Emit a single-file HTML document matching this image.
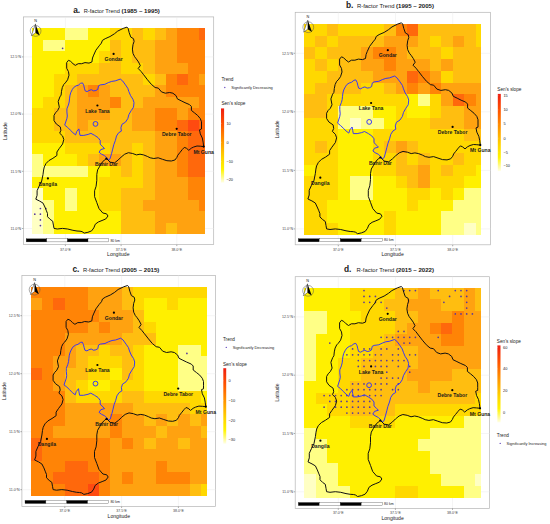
<!DOCTYPE html><html><head><meta charset="utf-8"><style>
*{margin:0;padding:0}
html,body{width:550px;height:524px;background:#fff;overflow:hidden}
svg{display:block}
text{font-family:"Liberation Sans",sans-serif;fill:#1a1a1a}
.town{font-size:5.1px;font-weight:bold;text-anchor:middle}
.tick{font-size:3.6px;fill:#444}
.axt{font-size:5.1px;fill:#222}
.km{font-size:3.5px}
.nlab{font-size:3.8px}
.title{font-size:6px}
.tl{font-size:8.4px;font-weight:bold}
.leg{font-size:4.7px;fill:#222}
.legs{font-size:3.9px;fill:#222}
</style></head><body><svg width="550" height="524" viewBox="0 0 550 524"><defs><linearGradient id="cb" x1="0" y1="0" x2="0" y2="1"><stop offset="0" stop-color="#EE1E12"/><stop offset="0.22" stop-color="#FF5500"/><stop offset="0.45" stop-color="#FF9A00"/><stop offset="0.66" stop-color="#FFD400"/><stop offset="0.82" stop-color="#FFF400"/><stop offset="1" stop-color="#FFFFE6"/></linearGradient></defs><rect x="23.4" y="16.9" width="190.29999999999998" height="227.7" fill="#fff" stroke="#b4b4b4" stroke-width="0.7"/><line x1="65.4" y1="16.9" x2="65.4" y2="244.6" stroke="#ebebeb" stroke-width="0.5"/><line x1="121.1" y1="16.9" x2="121.1" y2="244.6" stroke="#ebebeb" stroke-width="0.5"/><line x1="176.8" y1="16.9" x2="176.8" y2="244.6" stroke="#ebebeb" stroke-width="0.5"/><line x1="23.4" y1="228.5" x2="213.7" y2="228.5" stroke="#ebebeb" stroke-width="0.5"/><line x1="23.4" y1="171.3" x2="213.7" y2="171.3" stroke="#ebebeb" stroke-width="0.5"/><line x1="23.4" y1="114.1" x2="213.7" y2="114.1" stroke="#ebebeb" stroke-width="0.5"/><line x1="23.4" y1="56.9" x2="213.7" y2="56.9" stroke="#ebebeb" stroke-width="0.5"/><g shape-rendering="crispEdges"><rect x="32.00" y="28.30" width="11.44" height="11.74" fill="#FFF000"/><rect x="43.14" y="28.30" width="11.44" height="11.74" fill="#FFF000"/><rect x="54.28" y="28.30" width="11.44" height="11.74" fill="#FFF000"/><rect x="65.43" y="28.30" width="11.44" height="11.74" fill="#FFFF86"/><rect x="76.57" y="28.30" width="11.44" height="11.74" fill="#FFFF86"/><rect x="87.71" y="28.30" width="11.44" height="11.74" fill="#FFF000"/><rect x="98.85" y="28.30" width="11.44" height="11.74" fill="#FFF000"/><rect x="109.99" y="28.30" width="11.44" height="11.74" fill="#FFD800"/><rect x="121.14" y="28.30" width="11.44" height="11.74" fill="#FFD800"/><rect x="132.28" y="28.30" width="11.44" height="11.74" fill="#FFBE10"/><rect x="143.42" y="28.30" width="11.44" height="11.74" fill="#FFD800"/><rect x="154.56" y="28.30" width="11.44" height="11.74" fill="#FFBE10"/><rect x="165.70" y="28.30" width="11.44" height="11.74" fill="#FFA210"/><rect x="176.85" y="28.30" width="11.44" height="11.74" fill="#FF8406"/><rect x="187.99" y="28.30" width="11.44" height="11.74" fill="#FF8406"/><rect x="199.13" y="28.30" width="5.57" height="11.74" fill="#FF680C"/><rect x="32.00" y="39.74" width="11.44" height="11.74" fill="#FFF000"/><rect x="43.14" y="39.74" width="11.44" height="11.74" fill="#FFFF86"/><rect x="54.28" y="39.74" width="11.44" height="11.74" fill="#FFFF86"/><rect x="65.43" y="39.74" width="11.44" height="11.74" fill="#FFF000"/><rect x="76.57" y="39.74" width="11.44" height="11.74" fill="#FFF000"/><rect x="87.71" y="39.74" width="11.44" height="11.74" fill="#FFF000"/><rect x="98.85" y="39.74" width="11.44" height="11.74" fill="#FFF000"/><rect x="109.99" y="39.74" width="11.44" height="11.74" fill="#FFBE10"/><rect x="121.14" y="39.74" width="11.44" height="11.74" fill="#FFD800"/><rect x="132.28" y="39.74" width="11.44" height="11.74" fill="#FFBE10"/><rect x="143.42" y="39.74" width="11.44" height="11.74" fill="#FFBE10"/><rect x="154.56" y="39.74" width="11.44" height="11.74" fill="#FFA210"/><rect x="165.70" y="39.74" width="11.44" height="11.74" fill="#FFA210"/><rect x="176.85" y="39.74" width="11.44" height="11.74" fill="#FF8406"/><rect x="187.99" y="39.74" width="11.44" height="11.74" fill="#FF8406"/><rect x="199.13" y="39.74" width="5.57" height="11.74" fill="#FF8406"/><rect x="32.00" y="51.18" width="11.44" height="11.74" fill="#FFF000"/><rect x="43.14" y="51.18" width="11.44" height="11.74" fill="#FFF000"/><rect x="54.28" y="51.18" width="11.44" height="11.74" fill="#FFF000"/><rect x="65.43" y="51.18" width="11.44" height="11.74" fill="#FFF000"/><rect x="76.57" y="51.18" width="11.44" height="11.74" fill="#FFF000"/><rect x="87.71" y="51.18" width="11.44" height="11.74" fill="#FFF000"/><rect x="98.85" y="51.18" width="11.44" height="11.74" fill="#FFD800"/><rect x="109.99" y="51.18" width="11.44" height="11.74" fill="#FFBE10"/><rect x="121.14" y="51.18" width="11.44" height="11.74" fill="#FFD800"/><rect x="132.28" y="51.18" width="11.44" height="11.74" fill="#FFBE10"/><rect x="143.42" y="51.18" width="11.44" height="11.74" fill="#FFBE10"/><rect x="154.56" y="51.18" width="11.44" height="11.74" fill="#FFA210"/><rect x="165.70" y="51.18" width="11.44" height="11.74" fill="#FFA210"/><rect x="176.85" y="51.18" width="11.44" height="11.74" fill="#FF8406"/><rect x="187.99" y="51.18" width="11.44" height="11.74" fill="#FF8406"/><rect x="199.13" y="51.18" width="5.57" height="11.74" fill="#FF8406"/><rect x="32.00" y="62.62" width="11.44" height="11.74" fill="#FFF000"/><rect x="43.14" y="62.62" width="11.44" height="11.74" fill="#FFF000"/><rect x="54.28" y="62.62" width="11.44" height="11.74" fill="#FFF000"/><rect x="65.43" y="62.62" width="11.44" height="11.74" fill="#FFD800"/><rect x="76.57" y="62.62" width="11.44" height="11.74" fill="#FFD800"/><rect x="87.71" y="62.62" width="11.44" height="11.74" fill="#FFD800"/><rect x="98.85" y="62.62" width="11.44" height="11.74" fill="#FFBE10"/><rect x="109.99" y="62.62" width="11.44" height="11.74" fill="#FFBE10"/><rect x="121.14" y="62.62" width="11.44" height="11.74" fill="#FFD800"/><rect x="132.28" y="62.62" width="11.44" height="11.74" fill="#FFD800"/><rect x="143.42" y="62.62" width="11.44" height="11.74" fill="#FFBE10"/><rect x="154.56" y="62.62" width="11.44" height="11.74" fill="#FFA210"/><rect x="165.70" y="62.62" width="11.44" height="11.74" fill="#FFA210"/><rect x="176.85" y="62.62" width="11.44" height="11.74" fill="#FFA210"/><rect x="187.99" y="62.62" width="11.44" height="11.74" fill="#FF8406"/><rect x="199.13" y="62.62" width="5.57" height="11.74" fill="#FF8406"/><rect x="32.00" y="74.06" width="11.44" height="11.74" fill="#FFF000"/><rect x="43.14" y="74.06" width="11.44" height="11.74" fill="#FFF000"/><rect x="54.28" y="74.06" width="11.44" height="11.74" fill="#FFD800"/><rect x="65.43" y="74.06" width="11.44" height="11.74" fill="#FFD800"/><rect x="76.57" y="74.06" width="11.44" height="11.74" fill="#FFBE10"/><rect x="87.71" y="74.06" width="11.44" height="11.74" fill="#FFBE10"/><rect x="98.85" y="74.06" width="11.44" height="11.74" fill="#FFBE10"/><rect x="109.99" y="74.06" width="11.44" height="11.74" fill="#FFBE10"/><rect x="121.14" y="74.06" width="11.44" height="11.74" fill="#FFBE10"/><rect x="132.28" y="74.06" width="11.44" height="11.74" fill="#FFBE10"/><rect x="143.42" y="74.06" width="11.44" height="11.74" fill="#FFD800"/><rect x="154.56" y="74.06" width="11.44" height="11.74" fill="#FFBE10"/><rect x="165.70" y="74.06" width="11.44" height="11.74" fill="#FF8406"/><rect x="176.85" y="74.06" width="11.44" height="11.74" fill="#FF680C"/><rect x="187.99" y="74.06" width="11.44" height="11.74" fill="#FF8406"/><rect x="199.13" y="74.06" width="5.57" height="11.74" fill="#FFA210"/><rect x="32.00" y="85.49" width="11.44" height="11.74" fill="#FFF000"/><rect x="43.14" y="85.49" width="11.44" height="11.74" fill="#FFF000"/><rect x="54.28" y="85.49" width="11.44" height="11.74" fill="#FFD800"/><rect x="65.43" y="85.49" width="11.44" height="11.74" fill="#FFBE10"/><rect x="76.57" y="85.49" width="11.44" height="11.74" fill="#FFA210"/><rect x="87.71" y="85.49" width="11.44" height="11.74" fill="#FF8406"/><rect x="98.85" y="85.49" width="11.44" height="11.74" fill="#FFA210"/><rect x="109.99" y="85.49" width="11.44" height="11.74" fill="#FFBE10"/><rect x="121.14" y="85.49" width="11.44" height="11.74" fill="#FFBE10"/><rect x="132.28" y="85.49" width="11.44" height="11.74" fill="#FFBE10"/><rect x="143.42" y="85.49" width="11.44" height="11.74" fill="#FFBE10"/><rect x="154.56" y="85.49" width="11.44" height="11.74" fill="#FFA210"/><rect x="165.70" y="85.49" width="11.44" height="11.74" fill="#FF8406"/><rect x="176.85" y="85.49" width="11.44" height="11.74" fill="#FF8406"/><rect x="187.99" y="85.49" width="11.44" height="11.74" fill="#FF8406"/><rect x="199.13" y="85.49" width="5.57" height="11.74" fill="#FF8406"/><rect x="32.00" y="96.93" width="11.44" height="11.74" fill="#FFF000"/><rect x="43.14" y="96.93" width="11.44" height="11.74" fill="#FFD800"/><rect x="54.28" y="96.93" width="11.44" height="11.74" fill="#FFD800"/><rect x="65.43" y="96.93" width="11.44" height="11.74" fill="#FFBE10"/><rect x="76.57" y="96.93" width="11.44" height="11.74" fill="#FFA210"/><rect x="87.71" y="96.93" width="11.44" height="11.74" fill="#FFA210"/><rect x="98.85" y="96.93" width="11.44" height="11.74" fill="#FFA210"/><rect x="109.99" y="96.93" width="11.44" height="11.74" fill="#FF8406"/><rect x="121.14" y="96.93" width="11.44" height="11.74" fill="#FFBE10"/><rect x="132.28" y="96.93" width="11.44" height="11.74" fill="#FFBE10"/><rect x="143.42" y="96.93" width="11.44" height="11.74" fill="#FFA210"/><rect x="154.56" y="96.93" width="11.44" height="11.74" fill="#FFA210"/><rect x="165.70" y="96.93" width="11.44" height="11.74" fill="#FFA210"/><rect x="176.85" y="96.93" width="11.44" height="11.74" fill="#FFA210"/><rect x="187.99" y="96.93" width="11.44" height="11.74" fill="#FFA210"/><rect x="199.13" y="96.93" width="5.57" height="11.74" fill="#FF8406"/><rect x="32.00" y="108.37" width="11.44" height="11.74" fill="#FFD800"/><rect x="43.14" y="108.37" width="11.44" height="11.74" fill="#FFD800"/><rect x="54.28" y="108.37" width="11.44" height="11.74" fill="#FFBE10"/><rect x="65.43" y="108.37" width="11.44" height="11.74" fill="#FFBE10"/><rect x="76.57" y="108.37" width="11.44" height="11.74" fill="#FFA210"/><rect x="87.71" y="108.37" width="11.44" height="11.74" fill="#FFA210"/><rect x="98.85" y="108.37" width="11.44" height="11.74" fill="#FFA210"/><rect x="109.99" y="108.37" width="11.44" height="11.74" fill="#FFBE10"/><rect x="121.14" y="108.37" width="11.44" height="11.74" fill="#FFBE10"/><rect x="132.28" y="108.37" width="11.44" height="11.74" fill="#FFA210"/><rect x="143.42" y="108.37" width="11.44" height="11.74" fill="#FFA210"/><rect x="154.56" y="108.37" width="11.44" height="11.74" fill="#FF8406"/><rect x="165.70" y="108.37" width="11.44" height="11.74" fill="#FF8406"/><rect x="176.85" y="108.37" width="11.44" height="11.74" fill="#FFA210"/><rect x="187.99" y="108.37" width="11.44" height="11.74" fill="#FF8406"/><rect x="199.13" y="108.37" width="5.57" height="11.74" fill="#FF8406"/><rect x="32.00" y="119.81" width="11.44" height="11.74" fill="#FFD800"/><rect x="43.14" y="119.81" width="11.44" height="11.74" fill="#FFD800"/><rect x="54.28" y="119.81" width="11.44" height="11.74" fill="#FFBE10"/><rect x="65.43" y="119.81" width="11.44" height="11.74" fill="#FFBE10"/><rect x="76.57" y="119.81" width="11.44" height="11.74" fill="#FFA210"/><rect x="87.71" y="119.81" width="11.44" height="11.74" fill="#FFBE10"/><rect x="98.85" y="119.81" width="11.44" height="11.74" fill="#FFBE10"/><rect x="109.99" y="119.81" width="11.44" height="11.74" fill="#FFBE10"/><rect x="121.14" y="119.81" width="11.44" height="11.74" fill="#FFBE10"/><rect x="132.28" y="119.81" width="11.44" height="11.74" fill="#FFA210"/><rect x="143.42" y="119.81" width="11.44" height="11.74" fill="#FFA210"/><rect x="154.56" y="119.81" width="11.44" height="11.74" fill="#FF8406"/><rect x="165.70" y="119.81" width="11.44" height="11.74" fill="#FF8406"/><rect x="176.85" y="119.81" width="11.44" height="11.74" fill="#FF680C"/><rect x="187.99" y="119.81" width="11.44" height="11.74" fill="#FF4A10"/><rect x="199.13" y="119.81" width="5.57" height="11.74" fill="#FF680C"/><rect x="32.00" y="131.25" width="11.44" height="11.74" fill="#FFD800"/><rect x="43.14" y="131.25" width="11.44" height="11.74" fill="#FFD800"/><rect x="54.28" y="131.25" width="11.44" height="11.74" fill="#FFD800"/><rect x="65.43" y="131.25" width="11.44" height="11.74" fill="#FFBE10"/><rect x="76.57" y="131.25" width="11.44" height="11.74" fill="#FFBE10"/><rect x="87.71" y="131.25" width="11.44" height="11.74" fill="#FFBE10"/><rect x="98.85" y="131.25" width="11.44" height="11.74" fill="#FFBE10"/><rect x="109.99" y="131.25" width="11.44" height="11.74" fill="#FFBE10"/><rect x="121.14" y="131.25" width="11.44" height="11.74" fill="#FFBE10"/><rect x="132.28" y="131.25" width="11.44" height="11.74" fill="#FFBE10"/><rect x="143.42" y="131.25" width="11.44" height="11.74" fill="#FFBE10"/><rect x="154.56" y="131.25" width="11.44" height="11.74" fill="#FFA210"/><rect x="165.70" y="131.25" width="11.44" height="11.74" fill="#FFA210"/><rect x="176.85" y="131.25" width="11.44" height="11.74" fill="#FF8406"/><rect x="187.99" y="131.25" width="11.44" height="11.74" fill="#FF680C"/><rect x="199.13" y="131.25" width="5.57" height="11.74" fill="#FF680C"/><rect x="32.00" y="142.69" width="11.44" height="11.74" fill="#FFF000"/><rect x="43.14" y="142.69" width="11.44" height="11.74" fill="#FFF000"/><rect x="54.28" y="142.69" width="11.44" height="11.74" fill="#FFF000"/><rect x="65.43" y="142.69" width="11.44" height="11.74" fill="#FFD800"/><rect x="76.57" y="142.69" width="11.44" height="11.74" fill="#FFD800"/><rect x="87.71" y="142.69" width="11.44" height="11.74" fill="#FFD800"/><rect x="98.85" y="142.69" width="11.44" height="11.74" fill="#FFD800"/><rect x="109.99" y="142.69" width="11.44" height="11.74" fill="#FFBE10"/><rect x="121.14" y="142.69" width="11.44" height="11.74" fill="#FFBE10"/><rect x="132.28" y="142.69" width="11.44" height="11.74" fill="#FFD800"/><rect x="143.42" y="142.69" width="11.44" height="11.74" fill="#FFBE10"/><rect x="154.56" y="142.69" width="11.44" height="11.74" fill="#FFA210"/><rect x="165.70" y="142.69" width="11.44" height="11.74" fill="#FFA210"/><rect x="176.85" y="142.69" width="11.44" height="11.74" fill="#FF8406"/><rect x="187.99" y="142.69" width="11.44" height="11.74" fill="#FF680C"/><rect x="199.13" y="142.69" width="5.57" height="11.74" fill="#FF680C"/><rect x="32.00" y="154.13" width="11.44" height="11.74" fill="#FFFF86"/><rect x="43.14" y="154.13" width="11.44" height="11.74" fill="#FFF000"/><rect x="54.28" y="154.13" width="11.44" height="11.74" fill="#FFF000"/><rect x="65.43" y="154.13" width="11.44" height="11.74" fill="#FFF000"/><rect x="76.57" y="154.13" width="11.44" height="11.74" fill="#FFD800"/><rect x="87.71" y="154.13" width="11.44" height="11.74" fill="#FFBE10"/><rect x="98.85" y="154.13" width="11.44" height="11.74" fill="#FFA210"/><rect x="109.99" y="154.13" width="11.44" height="11.74" fill="#FFA210"/><rect x="121.14" y="154.13" width="11.44" height="11.74" fill="#FFBE10"/><rect x="132.28" y="154.13" width="11.44" height="11.74" fill="#FFD800"/><rect x="143.42" y="154.13" width="11.44" height="11.74" fill="#FFBE10"/><rect x="154.56" y="154.13" width="11.44" height="11.74" fill="#FFA210"/><rect x="165.70" y="154.13" width="11.44" height="11.74" fill="#FFA210"/><rect x="176.85" y="154.13" width="11.44" height="11.74" fill="#FF8406"/><rect x="187.99" y="154.13" width="11.44" height="11.74" fill="#FF680C"/><rect x="199.13" y="154.13" width="5.57" height="11.74" fill="#FF680C"/><rect x="32.00" y="165.57" width="11.44" height="11.74" fill="#FFFF86"/><rect x="43.14" y="165.57" width="11.44" height="11.74" fill="#FFFF86"/><rect x="54.28" y="165.57" width="11.44" height="11.74" fill="#FFFF86"/><rect x="65.43" y="165.57" width="11.44" height="11.74" fill="#FFFF86"/><rect x="76.57" y="165.57" width="11.44" height="11.74" fill="#FFFF86"/><rect x="87.71" y="165.57" width="11.44" height="11.74" fill="#FFF000"/><rect x="98.85" y="165.57" width="11.44" height="11.74" fill="#FFF000"/><rect x="109.99" y="165.57" width="11.44" height="11.74" fill="#FFD800"/><rect x="121.14" y="165.57" width="11.44" height="11.74" fill="#FFBE10"/><rect x="132.28" y="165.57" width="11.44" height="11.74" fill="#FFD800"/><rect x="143.42" y="165.57" width="11.44" height="11.74" fill="#FFBE10"/><rect x="154.56" y="165.57" width="11.44" height="11.74" fill="#FFA210"/><rect x="165.70" y="165.57" width="11.44" height="11.74" fill="#FFA210"/><rect x="176.85" y="165.57" width="11.44" height="11.74" fill="#FF8406"/><rect x="187.99" y="165.57" width="11.44" height="11.74" fill="#FF680C"/><rect x="199.13" y="165.57" width="5.57" height="11.74" fill="#FF680C"/><rect x="32.00" y="177.01" width="11.44" height="11.74" fill="#FFF000"/><rect x="43.14" y="177.01" width="11.44" height="11.74" fill="#FFF000"/><rect x="54.28" y="177.01" width="11.44" height="11.74" fill="#FFF000"/><rect x="65.43" y="177.01" width="11.44" height="11.74" fill="#FFF000"/><rect x="76.57" y="177.01" width="11.44" height="11.74" fill="#FFF000"/><rect x="87.71" y="177.01" width="11.44" height="11.74" fill="#FFF000"/><rect x="98.85" y="177.01" width="11.44" height="11.74" fill="#FFD800"/><rect x="109.99" y="177.01" width="11.44" height="11.74" fill="#FFD800"/><rect x="121.14" y="177.01" width="11.44" height="11.74" fill="#FFD800"/><rect x="132.28" y="177.01" width="11.44" height="11.74" fill="#FFD800"/><rect x="143.42" y="177.01" width="11.44" height="11.74" fill="#FFBE10"/><rect x="154.56" y="177.01" width="11.44" height="11.74" fill="#FFA210"/><rect x="165.70" y="177.01" width="11.44" height="11.74" fill="#FFA210"/><rect x="176.85" y="177.01" width="11.44" height="11.74" fill="#FFA210"/><rect x="187.99" y="177.01" width="11.44" height="11.74" fill="#FF8406"/><rect x="199.13" y="177.01" width="5.57" height="11.74" fill="#FF8406"/><rect x="32.00" y="188.44" width="11.44" height="11.74" fill="#FFFFC4"/><rect x="43.14" y="188.44" width="11.44" height="11.74" fill="#FFF000"/><rect x="54.28" y="188.44" width="11.44" height="11.74" fill="#FFF000"/><rect x="65.43" y="188.44" width="11.44" height="11.74" fill="#FFFF86"/><rect x="76.57" y="188.44" width="11.44" height="11.74" fill="#FFF000"/><rect x="87.71" y="188.44" width="11.44" height="11.74" fill="#FFF000"/><rect x="98.85" y="188.44" width="11.44" height="11.74" fill="#FFD800"/><rect x="109.99" y="188.44" width="11.44" height="11.74" fill="#FFD800"/><rect x="121.14" y="188.44" width="11.44" height="11.74" fill="#FFBE10"/><rect x="132.28" y="188.44" width="11.44" height="11.74" fill="#FFBE10"/><rect x="143.42" y="188.44" width="11.44" height="11.74" fill="#FFBE10"/><rect x="154.56" y="188.44" width="11.44" height="11.74" fill="#FFA210"/><rect x="165.70" y="188.44" width="11.44" height="11.74" fill="#FFA210"/><rect x="176.85" y="188.44" width="11.44" height="11.74" fill="#FFA210"/><rect x="187.99" y="188.44" width="11.44" height="11.74" fill="#FF8406"/><rect x="199.13" y="188.44" width="5.57" height="11.74" fill="#FF8406"/><rect x="32.00" y="199.88" width="11.44" height="11.74" fill="#FFFFC4"/><rect x="43.14" y="199.88" width="11.44" height="11.74" fill="#FFFF86"/><rect x="54.28" y="199.88" width="11.44" height="11.74" fill="#FFF000"/><rect x="65.43" y="199.88" width="11.44" height="11.74" fill="#FFFF86"/><rect x="76.57" y="199.88" width="11.44" height="11.74" fill="#FFF000"/><rect x="87.71" y="199.88" width="11.44" height="11.74" fill="#FFF000"/><rect x="98.85" y="199.88" width="11.44" height="11.74" fill="#FFD800"/><rect x="109.99" y="199.88" width="11.44" height="11.74" fill="#FFD800"/><rect x="121.14" y="199.88" width="11.44" height="11.74" fill="#FFBE10"/><rect x="132.28" y="199.88" width="11.44" height="11.74" fill="#FFBE10"/><rect x="143.42" y="199.88" width="11.44" height="11.74" fill="#FFA210"/><rect x="154.56" y="199.88" width="11.44" height="11.74" fill="#FFA210"/><rect x="165.70" y="199.88" width="11.44" height="11.74" fill="#FFA210"/><rect x="176.85" y="199.88" width="11.44" height="11.74" fill="#FFA210"/><rect x="187.99" y="199.88" width="11.44" height="11.74" fill="#FFA210"/><rect x="199.13" y="199.88" width="5.57" height="11.74" fill="#FF8406"/><rect x="32.00" y="211.32" width="11.44" height="11.74" fill="#FFFFC4"/><rect x="43.14" y="211.32" width="11.44" height="11.74" fill="#FFFF86"/><rect x="54.28" y="211.32" width="11.44" height="11.74" fill="#FFF000"/><rect x="65.43" y="211.32" width="11.44" height="11.74" fill="#FFF000"/><rect x="76.57" y="211.32" width="11.44" height="11.74" fill="#FFF000"/><rect x="87.71" y="211.32" width="11.44" height="11.74" fill="#FFF000"/><rect x="98.85" y="211.32" width="11.44" height="11.74" fill="#FFF000"/><rect x="109.99" y="211.32" width="11.44" height="11.74" fill="#FFF000"/><rect x="121.14" y="211.32" width="11.44" height="11.74" fill="#FFBE10"/><rect x="132.28" y="211.32" width="11.44" height="11.74" fill="#FFBE10"/><rect x="143.42" y="211.32" width="11.44" height="11.74" fill="#FFBE10"/><rect x="154.56" y="211.32" width="11.44" height="11.74" fill="#FFA210"/><rect x="165.70" y="211.32" width="11.44" height="11.74" fill="#FFA210"/><rect x="176.85" y="211.32" width="11.44" height="11.74" fill="#FFA210"/><rect x="187.99" y="211.32" width="11.44" height="11.74" fill="#FFA210"/><rect x="199.13" y="211.32" width="5.57" height="11.74" fill="#FFA210"/><rect x="32.00" y="222.76" width="11.44" height="11.44" fill="#FFFFC4"/><rect x="43.14" y="222.76" width="11.44" height="11.44" fill="#FFFF86"/><rect x="54.28" y="222.76" width="11.44" height="11.44" fill="#FFF000"/><rect x="65.43" y="222.76" width="11.44" height="11.44" fill="#FFF000"/><rect x="76.57" y="222.76" width="11.44" height="11.44" fill="#FFF000"/><rect x="87.71" y="222.76" width="11.44" height="11.44" fill="#FFF000"/><rect x="98.85" y="222.76" width="11.44" height="11.44" fill="#FFF000"/><rect x="109.99" y="222.76" width="11.44" height="11.44" fill="#FFF000"/><rect x="121.14" y="222.76" width="11.44" height="11.44" fill="#FFBE10"/><rect x="132.28" y="222.76" width="11.44" height="11.44" fill="#FFBE10"/><rect x="143.42" y="222.76" width="11.44" height="11.44" fill="#FFBE10"/><rect x="154.56" y="222.76" width="11.44" height="11.44" fill="#FFA210"/><rect x="165.70" y="222.76" width="11.44" height="11.44" fill="#FFBE10"/><rect x="176.85" y="222.76" width="11.44" height="11.44" fill="#FFA210"/><rect x="187.99" y="222.76" width="11.44" height="11.44" fill="#FFA210"/><rect x="199.13" y="222.76" width="5.57" height="11.44" fill="#FFA210"/></g><circle cx="40.4" cy="208.5" r="0.85" fill="#56379e"/><circle cx="45.9" cy="208.5" r="0.85" fill="#56379e"/><circle cx="34.8" cy="214.2" r="0.85" fill="#56379e"/><circle cx="40.4" cy="214.2" r="0.85" fill="#56379e"/><circle cx="40.4" cy="219.9" r="0.85" fill="#56379e"/><circle cx="40.4" cy="225.6" r="0.85" fill="#56379e"/><circle cx="62.6" cy="48.3" r="0.85" fill="#56379e"/><path d="M82.5,82.9 L83.7,85.2 L84.4,88.2 L85.2,90.9 L87.1,91.6 L89.0,90.5 L91.3,89.7 L93.6,90.9 L95.9,90.5 L97.8,89.4 L98.5,85.9 L100.3,84.9 L104.9,84.3 L108.3,82.6 L111.7,81.4 L115.2,80.9 L120.3,79.1 L122.6,80.9 L125.5,84.9 L127.8,88.3 L128.9,91.7 L130.6,95.7 L132.9,99.2 L134.0,102.6 L133.5,107.2 L131.2,110.6 L128.9,114.6 L127.8,118.6 L125.5,122.1 L122.0,124.3 L120.9,127.8 L121.4,131.1 L118.7,132.7 L116.5,136.0 L115.4,140.4 L113.8,144.7 L112.7,149.1 L111.6,153.4 L110.0,158.9 L108.3,160.0 L106.7,157.8 L104.5,155.6 L101.3,154.0 L99.1,152.3 L100.7,149.6 L104.5,148.5 L102.9,146.9 L100.2,144.2 L100.2,140.4 L98.0,137.6 L94.7,135.4 L90.9,133.3 L88.2,134.4 L83.8,135.4 L80.0,135.4 L79.4,132.2 L78.9,128.9 L76.7,131.6 L75.6,134.9 L72.9,132.7 L70.2,130.0 L67.5,127.3 L64.7,125.1 L66.9,118.5 L67.3,116.0 L66.9,111.9 L66.9,108.8 L68.4,105.0 L69.2,102.0 L69.5,98.9 L69.9,95.8 L70.7,92.8 L72.2,89.7 L73.7,87.5 L76.0,85.9 L78.3,85.2 L80.6,83.3 Z" fill="none" stroke="#2f2fff" stroke-width="0.95"/><circle cx="95.5" cy="123.9" r="2.4" fill="none" stroke="#2f2fff" stroke-width="0.95"/><path d="M127.0,27.1 L123.2,28.4 L117.7,31.1 L114.4,33.8 L110.1,36.5 L105.2,38.7 L102.4,40.4 L101.4,43.1 L99.2,45.8 L95.9,50.2 L93.7,55.1 L92.5,58.0 L91.9,62.0 L89.0,63.1 L85.0,62.6 L81.6,63.7 L78.2,63.7 L75.3,65.4 L73.0,63.7 L70.7,61.4 L68.5,60.3 L66.7,62.6 L66.7,68.3 L68.5,71.7 L69.0,75.2 L67.6,79.8 L65.3,82.9 L63.8,84.4 L62.3,87.5 L61.5,91.3 L61.1,95.1 L59.9,96.9 L58.2,101.5 L59.3,107.2 L57.6,110.6 L55.5,112.8 L54.0,115.4 L54.0,120.6 L56.3,124.0 L60.3,126.9 L60.9,130.3 L59.7,133.2 L62.6,136.0 L63.8,139.5 L62.6,144.0 L59.2,148.6 L56.9,152.0 L56.9,155.5 L52.9,158.3 L48.9,160.6 L46.0,163.5 L44.3,166.9 L43.6,170.0 L43.0,174.5 L41.7,181.0 L39.1,186.2 L37.1,190.7 L37.1,195.3 L35.8,199.2 L39.7,201.1 L43.0,203.1 L44.9,207.0 L46.2,210.2 L47.5,213.5 L47.5,216.7 L50.1,219.3 L52.7,221.2 L53.4,225.1 L54.0,228.4 L57.3,229.0 L62.5,228.4 L67.7,229.0 L72.9,230.3 L77.0,231.0 L80.0,231.2 L82.0,231.6 L84.2,233.1 L87.9,232.3 L91.6,230.9 L93.8,227.9 L95.3,224.2 L98.3,222.0 L102.0,220.5 L105.7,219.0 L108.0,216.0 L106.5,213.8 L102.8,213.0 L99.0,208.6 L96.8,202.6 L94.6,196.7 L94.6,190.7 L96.1,186.3 L96.8,180.3 L96.8,174.4 L97.6,169.9 L99.8,166.2 L102.0,162.5 L104.4,160.0 L106.5,158.5 L110.2,162.2 L114.5,162.9 L118.2,160.0 L121.1,157.1 L124.7,154.2 L128.4,152.7 L132.7,153.5 L136.4,154.9 L140.0,154.2 L143.6,154.9 L147.3,156.4 L150.2,157.8 L153.8,158.5 L158.2,157.8 L162.5,159.3 L166.9,160.7 L171.3,161.0 L174.9,160.0 L176.8,157.5 L177.8,155.2 L179.8,152.7 L182.3,149.5 L184.3,147.4 L186.4,148.2 L188.8,150.3 L191.3,148.2 L193.7,147.0 L197.0,146.0 L200.3,146.2 L203.7,146.6 L203.1,142.1 L202.3,138.0 L200.3,133.9 L199.5,129.8 L201.5,129.0 L201.5,126.0 L201.5,121.8 L200.3,118.6 L197.7,115.5 L194.5,112.9 L191.4,110.4 L191.4,106.5 L189.5,104.6 L185.0,102.7 L181.2,100.8 L177.4,98.9 L176.1,95.7 L172.9,93.2 L169.7,92.5 L165.3,93.2 L161.5,91.9 L158.3,88.1 L155.1,87.5 L151.3,84.3 L147.5,79.8 L143.6,74.7 L141.1,71.5 L138.2,68.5 L140.3,65.6 L138.5,62.0 L136.3,58.9 L134.6,56.7 L133.0,53.4 L132.4,49.1 L133.0,44.7 L134.1,41.4 L133.5,38.7 L130.8,37.1 L129.2,32.7 L128.1,28.4 Z" fill="none" stroke="#111" stroke-width="1.0" stroke-linejoin="round"/><circle cx="113.6" cy="53.9" r="1.1" fill="#000"/><text x="113.6" y="61.1" class="town">Gondar</text><circle cx="97.4" cy="105.5" r="1.1" fill="#000"/><text x="97.4" y="112.7" class="town">Lake Tana</text><circle cx="106.4" cy="158.7" r="1.1" fill="#000"/><text x="106.4" y="165.9" class="town">Bahir Dar</text><circle cx="47.9" cy="178.4" r="1.1" fill="#000"/><text x="47.9" y="185.6" class="town">Dangila</text><circle cx="176.7" cy="128.8" r="1.1" fill="#000"/><text x="176.7" y="136.0" class="town">Debre Tabor</text><circle cx="203.7" cy="146.6" r="1.1" fill="#000"/><text x="203.7" y="153.8" class="town">Mt Guna</text><line x1="65.4" y1="244.6" x2="65.4" y2="246.1" stroke="#333" stroke-width="0.4"/><text x="65.4" y="250.5" class="tick" text-anchor="middle">37.0°E</text><line x1="121.1" y1="244.6" x2="121.1" y2="246.1" stroke="#333" stroke-width="0.4"/><text x="121.1" y="250.5" class="tick" text-anchor="middle">37.5°E</text><line x1="176.8" y1="244.6" x2="176.8" y2="246.1" stroke="#333" stroke-width="0.4"/><text x="176.8" y="250.5" class="tick" text-anchor="middle">38.0°E</text><line x1="21.9" y1="228.5" x2="23.4" y2="228.5" stroke="#333" stroke-width="0.4"/><text x="21.2" y="229.7" class="tick" text-anchor="end">11.0°N</text><line x1="21.9" y1="171.3" x2="23.4" y2="171.3" stroke="#333" stroke-width="0.4"/><text x="21.2" y="172.5" class="tick" text-anchor="end">11.5°N</text><line x1="21.9" y1="114.1" x2="23.4" y2="114.1" stroke="#333" stroke-width="0.4"/><text x="21.2" y="115.3" class="tick" text-anchor="end">12.0°N</text><line x1="21.9" y1="56.9" x2="23.4" y2="56.9" stroke="#333" stroke-width="0.4"/><text x="21.2" y="58.1" class="tick" text-anchor="end">12.5°N</text><text x="118.3" y="256.2" class="axt" text-anchor="middle">Longitude</text><text transform="translate(7.4,131.2) rotate(-90)" class="axt" text-anchor="middle">Latitude</text><rect x="26.2" y="238.8" width="20.6" height="3.1" fill="#000" stroke="#222" stroke-width="0.3"/><rect x="46.8" y="238.8" width="20.6" height="3.1" fill="#fff" stroke="#222" stroke-width="0.3"/><rect x="67.4" y="238.8" width="20.6" height="3.1" fill="#000" stroke="#222" stroke-width="0.3"/><rect x="88.0" y="238.8" width="20.6" height="3.1" fill="#fff" stroke="#222" stroke-width="0.3"/><text x="110.4" y="241.5" class="km">80 km</text><circle cx="35.6" cy="30.9" r="5.4" fill="none" stroke="#555" stroke-width="0.5"/><path d="M35.5,23.9 L39.7,35.6 L35.5,32.9 Z" fill="#000"/><path d="M35.5,23.9 L31.3,35.8 L35.5,32.9 Z" fill="#fff" stroke="#000" stroke-width="0.4"/><text x="35.5" y="21.9" class="nlab" text-anchor="middle">N</text><text x="73.2" y="12.6" class="tl">a.</text><text x="83.7" y="12.6" class="title" textLength="36.2" lengthAdjust="spacingAndGlyphs">R-factor Trend</text><text x="121.4" y="12.6" class="title" font-weight="bold" textLength="38.5" lengthAdjust="spacingAndGlyphs">(1985 – 1995)</text><text x="221.4" y="81.0" class="leg">Trend</text><circle cx="224.8" cy="87.5" r="0.72" fill="#6a50c0"/><text x="231.2" y="88.9" class="legs">Significantly Decreasing</text><text x="221.4" y="105.4" class="leg">Sen's slope</text><rect x="221.0" y="108.4" width="3.1" height="74.2" fill="url(#cb)"/><line x1="221.0" y1="123.4" x2="221.6" y2="123.4" stroke="#fff" stroke-width="0.3"/><text x="226.4" y="124.7" class="legs">10</text><line x1="221.0" y1="142.3" x2="221.6" y2="142.3" stroke="#fff" stroke-width="0.3"/><text x="226.4" y="143.6" class="legs">0</text><line x1="221.0" y1="161.7" x2="221.6" y2="161.7" stroke="#fff" stroke-width="0.3"/><text x="226.4" y="163.0" class="legs">−10</text><line x1="221.0" y1="180.0" x2="221.6" y2="180.0" stroke="#fff" stroke-width="0.3"/><text x="226.4" y="181.3" class="legs">−20</text><rect x="295.2" y="12.3" width="195.3" height="232.5" fill="#fff" stroke="#b4b4b4" stroke-width="0.7"/><line x1="338.3" y1="12.3" x2="338.3" y2="244.8" stroke="#ebebeb" stroke-width="0.5"/><line x1="395.5" y1="12.3" x2="395.5" y2="244.8" stroke="#ebebeb" stroke-width="0.5"/><line x1="452.7" y1="12.3" x2="452.7" y2="244.8" stroke="#ebebeb" stroke-width="0.5"/><line x1="295.2" y1="228.9" x2="490.5" y2="228.9" stroke="#ebebeb" stroke-width="0.5"/><line x1="295.2" y1="170.4" x2="490.5" y2="170.4" stroke="#ebebeb" stroke-width="0.5"/><line x1="295.2" y1="111.8" x2="490.5" y2="111.8" stroke="#ebebeb" stroke-width="0.5"/><line x1="295.2" y1="53.3" x2="490.5" y2="53.3" stroke="#ebebeb" stroke-width="0.5"/><g shape-rendering="crispEdges"><rect x="304.00" y="24.00" width="11.74" height="12.01" fill="#FFD800"/><rect x="315.44" y="24.00" width="11.74" height="12.01" fill="#FFD800"/><rect x="326.88" y="24.00" width="11.74" height="12.01" fill="#FFBE10"/><rect x="338.32" y="24.00" width="11.74" height="12.01" fill="#FFD800"/><rect x="349.75" y="24.00" width="11.74" height="12.01" fill="#FFD800"/><rect x="361.19" y="24.00" width="11.74" height="12.01" fill="#FFD800"/><rect x="372.63" y="24.00" width="11.74" height="12.01" fill="#FFD800"/><rect x="384.07" y="24.00" width="11.74" height="12.01" fill="#FFBE10"/><rect x="395.51" y="24.00" width="11.74" height="12.01" fill="#FF8406"/><rect x="406.95" y="24.00" width="11.74" height="12.01" fill="#FF680C"/><rect x="418.39" y="24.00" width="11.74" height="12.01" fill="#FFBE10"/><rect x="429.83" y="24.00" width="11.74" height="12.01" fill="#FFBE10"/><rect x="441.26" y="24.00" width="11.74" height="12.01" fill="#FFBE10"/><rect x="452.70" y="24.00" width="11.74" height="12.01" fill="#FFBE10"/><rect x="464.14" y="24.00" width="11.74" height="12.01" fill="#FFBE10"/><rect x="475.58" y="24.00" width="5.72" height="12.01" fill="#FFD800"/><rect x="304.00" y="35.71" width="11.74" height="12.01" fill="#FFD800"/><rect x="315.44" y="35.71" width="11.74" height="12.01" fill="#FFBE10"/><rect x="326.88" y="35.71" width="11.74" height="12.01" fill="#FFD800"/><rect x="338.32" y="35.71" width="11.74" height="12.01" fill="#FFBE10"/><rect x="349.75" y="35.71" width="11.74" height="12.01" fill="#FFBE10"/><rect x="361.19" y="35.71" width="11.74" height="12.01" fill="#FFBE10"/><rect x="372.63" y="35.71" width="11.74" height="12.01" fill="#FFBE10"/><rect x="384.07" y="35.71" width="11.74" height="12.01" fill="#FFA210"/><rect x="395.51" y="35.71" width="11.74" height="12.01" fill="#FFA210"/><rect x="406.95" y="35.71" width="11.74" height="12.01" fill="#FFA210"/><rect x="418.39" y="35.71" width="11.74" height="12.01" fill="#FFBE10"/><rect x="429.83" y="35.71" width="11.74" height="12.01" fill="#FFD800"/><rect x="441.26" y="35.71" width="11.74" height="12.01" fill="#FFBE10"/><rect x="452.70" y="35.71" width="11.74" height="12.01" fill="#FFA210"/><rect x="464.14" y="35.71" width="11.74" height="12.01" fill="#FFBE10"/><rect x="475.58" y="35.71" width="5.72" height="12.01" fill="#FFD800"/><rect x="304.00" y="47.42" width="11.74" height="12.01" fill="#FFBE10"/><rect x="315.44" y="47.42" width="11.74" height="12.01" fill="#FFD800"/><rect x="326.88" y="47.42" width="11.74" height="12.01" fill="#FFBE10"/><rect x="338.32" y="47.42" width="11.74" height="12.01" fill="#FFBE10"/><rect x="349.75" y="47.42" width="11.74" height="12.01" fill="#FFBE10"/><rect x="361.19" y="47.42" width="11.74" height="12.01" fill="#FFA210"/><rect x="372.63" y="47.42" width="11.74" height="12.01" fill="#FF8406"/><rect x="384.07" y="47.42" width="11.74" height="12.01" fill="#FF8406"/><rect x="395.51" y="47.42" width="11.74" height="12.01" fill="#FFA210"/><rect x="406.95" y="47.42" width="11.74" height="12.01" fill="#FFBE10"/><rect x="418.39" y="47.42" width="11.74" height="12.01" fill="#FFBE10"/><rect x="429.83" y="47.42" width="11.74" height="12.01" fill="#FFBE10"/><rect x="441.26" y="47.42" width="11.74" height="12.01" fill="#FFD800"/><rect x="452.70" y="47.42" width="11.74" height="12.01" fill="#FFBE10"/><rect x="464.14" y="47.42" width="11.74" height="12.01" fill="#FFBE10"/><rect x="475.58" y="47.42" width="5.72" height="12.01" fill="#FFBE10"/><rect x="304.00" y="59.13" width="11.74" height="12.01" fill="#FFD800"/><rect x="315.44" y="59.13" width="11.74" height="12.01" fill="#FFBE10"/><rect x="326.88" y="59.13" width="11.74" height="12.01" fill="#FFD800"/><rect x="338.32" y="59.13" width="11.74" height="12.01" fill="#FFBE10"/><rect x="349.75" y="59.13" width="11.74" height="12.01" fill="#FFBE10"/><rect x="361.19" y="59.13" width="11.74" height="12.01" fill="#FFA210"/><rect x="372.63" y="59.13" width="11.74" height="12.01" fill="#FFA210"/><rect x="384.07" y="59.13" width="11.74" height="12.01" fill="#FF8406"/><rect x="395.51" y="59.13" width="11.74" height="12.01" fill="#FFA210"/><rect x="406.95" y="59.13" width="11.74" height="12.01" fill="#FFA210"/><rect x="418.39" y="59.13" width="11.74" height="12.01" fill="#FFA210"/><rect x="429.83" y="59.13" width="11.74" height="12.01" fill="#FFBE10"/><rect x="441.26" y="59.13" width="11.74" height="12.01" fill="#FFA210"/><rect x="452.70" y="59.13" width="11.74" height="12.01" fill="#FFBE10"/><rect x="464.14" y="59.13" width="11.74" height="12.01" fill="#FFBE10"/><rect x="475.58" y="59.13" width="5.72" height="12.01" fill="#FFBE10"/><rect x="304.00" y="70.84" width="11.74" height="12.01" fill="#FFD800"/><rect x="315.44" y="70.84" width="11.74" height="12.01" fill="#FFD800"/><rect x="326.88" y="70.84" width="11.74" height="12.01" fill="#FFBE10"/><rect x="338.32" y="70.84" width="11.74" height="12.01" fill="#FFBE10"/><rect x="349.75" y="70.84" width="11.74" height="12.01" fill="#FFBE10"/><rect x="361.19" y="70.84" width="11.74" height="12.01" fill="#FFBE10"/><rect x="372.63" y="70.84" width="11.74" height="12.01" fill="#FFA210"/><rect x="384.07" y="70.84" width="11.74" height="12.01" fill="#FFA210"/><rect x="395.51" y="70.84" width="11.74" height="12.01" fill="#FFA210"/><rect x="406.95" y="70.84" width="11.74" height="12.01" fill="#FF680C"/><rect x="418.39" y="70.84" width="11.74" height="12.01" fill="#FF8406"/><rect x="429.83" y="70.84" width="11.74" height="12.01" fill="#FFA210"/><rect x="441.26" y="70.84" width="11.74" height="12.01" fill="#FFD800"/><rect x="452.70" y="70.84" width="11.74" height="12.01" fill="#FFBE10"/><rect x="464.14" y="70.84" width="11.74" height="12.01" fill="#FFBE10"/><rect x="475.58" y="70.84" width="5.72" height="12.01" fill="#FFBE10"/><rect x="304.00" y="82.56" width="11.74" height="12.01" fill="#FFD800"/><rect x="315.44" y="82.56" width="11.74" height="12.01" fill="#FFBE10"/><rect x="326.88" y="82.56" width="11.74" height="12.01" fill="#FFBE10"/><rect x="338.32" y="82.56" width="11.74" height="12.01" fill="#FFBE10"/><rect x="349.75" y="82.56" width="11.74" height="12.01" fill="#FFBE10"/><rect x="361.19" y="82.56" width="11.74" height="12.01" fill="#FFD800"/><rect x="372.63" y="82.56" width="11.74" height="12.01" fill="#FFD800"/><rect x="384.07" y="82.56" width="11.74" height="12.01" fill="#FFBE10"/><rect x="395.51" y="82.56" width="11.74" height="12.01" fill="#FFA210"/><rect x="406.95" y="82.56" width="11.74" height="12.01" fill="#FF8406"/><rect x="418.39" y="82.56" width="11.74" height="12.01" fill="#FFA210"/><rect x="429.83" y="82.56" width="11.74" height="12.01" fill="#FF8406"/><rect x="441.26" y="82.56" width="11.74" height="12.01" fill="#FFA210"/><rect x="452.70" y="82.56" width="11.74" height="12.01" fill="#FFA210"/><rect x="464.14" y="82.56" width="11.74" height="12.01" fill="#FFA210"/><rect x="475.58" y="82.56" width="5.72" height="12.01" fill="#FFA210"/><rect x="304.00" y="94.27" width="11.74" height="12.01" fill="#FFBE10"/><rect x="315.44" y="94.27" width="11.74" height="12.01" fill="#FFBE10"/><rect x="326.88" y="94.27" width="11.74" height="12.01" fill="#FFD800"/><rect x="338.32" y="94.27" width="11.74" height="12.01" fill="#FFD800"/><rect x="349.75" y="94.27" width="11.74" height="12.01" fill="#FFD800"/><rect x="361.19" y="94.27" width="11.74" height="12.01" fill="#FFD800"/><rect x="372.63" y="94.27" width="11.74" height="12.01" fill="#FFD800"/><rect x="384.07" y="94.27" width="11.74" height="12.01" fill="#FFD800"/><rect x="395.51" y="94.27" width="11.74" height="12.01" fill="#FFD800"/><rect x="406.95" y="94.27" width="11.74" height="12.01" fill="#FFF000"/><rect x="418.39" y="94.27" width="11.74" height="12.01" fill="#FFFF86"/><rect x="429.83" y="94.27" width="11.74" height="12.01" fill="#FFD800"/><rect x="441.26" y="94.27" width="11.74" height="12.01" fill="#FFA210"/><rect x="452.70" y="94.27" width="11.74" height="12.01" fill="#FF680C"/><rect x="464.14" y="94.27" width="11.74" height="12.01" fill="#FF8406"/><rect x="475.58" y="94.27" width="5.72" height="12.01" fill="#FFA210"/><rect x="304.00" y="105.98" width="11.74" height="12.01" fill="#FFBE10"/><rect x="315.44" y="105.98" width="11.74" height="12.01" fill="#FFBE10"/><rect x="326.88" y="105.98" width="11.74" height="12.01" fill="#FFD800"/><rect x="338.32" y="105.98" width="11.74" height="12.01" fill="#FFFF86"/><rect x="349.75" y="105.98" width="11.74" height="12.01" fill="#FFFF86"/><rect x="361.19" y="105.98" width="11.74" height="12.01" fill="#FFFF86"/><rect x="372.63" y="105.98" width="11.74" height="12.01" fill="#FFF000"/><rect x="384.07" y="105.98" width="11.74" height="12.01" fill="#FFF000"/><rect x="395.51" y="105.98" width="11.74" height="12.01" fill="#FFD800"/><rect x="406.95" y="105.98" width="11.74" height="12.01" fill="#FFF000"/><rect x="418.39" y="105.98" width="11.74" height="12.01" fill="#FFF000"/><rect x="429.83" y="105.98" width="11.74" height="12.01" fill="#FFD800"/><rect x="441.26" y="105.98" width="11.74" height="12.01" fill="#FFBE10"/><rect x="452.70" y="105.98" width="11.74" height="12.01" fill="#FFBE10"/><rect x="464.14" y="105.98" width="11.74" height="12.01" fill="#FFA210"/><rect x="475.58" y="105.98" width="5.72" height="12.01" fill="#FFA210"/><rect x="304.00" y="117.69" width="11.74" height="12.01" fill="#FFD800"/><rect x="315.44" y="117.69" width="11.74" height="12.01" fill="#FFD800"/><rect x="326.88" y="117.69" width="11.74" height="12.01" fill="#FFD800"/><rect x="338.32" y="117.69" width="11.74" height="12.01" fill="#FFFF86"/><rect x="349.75" y="117.69" width="11.74" height="12.01" fill="#FFFFC4"/><rect x="361.19" y="117.69" width="11.74" height="12.01" fill="#FFFF86"/><rect x="372.63" y="117.69" width="11.74" height="12.01" fill="#FFFF86"/><rect x="384.07" y="117.69" width="11.74" height="12.01" fill="#FFF000"/><rect x="395.51" y="117.69" width="11.74" height="12.01" fill="#FFD800"/><rect x="406.95" y="117.69" width="11.74" height="12.01" fill="#FFD800"/><rect x="418.39" y="117.69" width="11.74" height="12.01" fill="#FFD800"/><rect x="429.83" y="117.69" width="11.74" height="12.01" fill="#FFBE10"/><rect x="441.26" y="117.69" width="11.74" height="12.01" fill="#FFBE10"/><rect x="452.70" y="117.69" width="11.74" height="12.01" fill="#FFBE10"/><rect x="464.14" y="117.69" width="11.74" height="12.01" fill="#FFA210"/><rect x="475.58" y="117.69" width="5.72" height="12.01" fill="#FFA210"/><rect x="304.00" y="129.40" width="11.74" height="12.01" fill="#FFD800"/><rect x="315.44" y="129.40" width="11.74" height="12.01" fill="#FFD800"/><rect x="326.88" y="129.40" width="11.74" height="12.01" fill="#FFD800"/><rect x="338.32" y="129.40" width="11.74" height="12.01" fill="#FFF000"/><rect x="349.75" y="129.40" width="11.74" height="12.01" fill="#FFF000"/><rect x="361.19" y="129.40" width="11.74" height="12.01" fill="#FFF000"/><rect x="372.63" y="129.40" width="11.74" height="12.01" fill="#FFD800"/><rect x="384.07" y="129.40" width="11.74" height="12.01" fill="#FFD800"/><rect x="395.51" y="129.40" width="11.74" height="12.01" fill="#FFD800"/><rect x="406.95" y="129.40" width="11.74" height="12.01" fill="#FFD800"/><rect x="418.39" y="129.40" width="11.74" height="12.01" fill="#FFD800"/><rect x="429.83" y="129.40" width="11.74" height="12.01" fill="#FFD800"/><rect x="441.26" y="129.40" width="11.74" height="12.01" fill="#FFD800"/><rect x="452.70" y="129.40" width="11.74" height="12.01" fill="#FFD800"/><rect x="464.14" y="129.40" width="11.74" height="12.01" fill="#FFBE10"/><rect x="475.58" y="129.40" width="5.72" height="12.01" fill="#FFBE10"/><rect x="304.00" y="141.11" width="11.74" height="12.01" fill="#FFD800"/><rect x="315.44" y="141.11" width="11.74" height="12.01" fill="#FFBE10"/><rect x="326.88" y="141.11" width="11.74" height="12.01" fill="#FFD800"/><rect x="338.32" y="141.11" width="11.74" height="12.01" fill="#FFF000"/><rect x="349.75" y="141.11" width="11.74" height="12.01" fill="#FFF000"/><rect x="361.19" y="141.11" width="11.74" height="12.01" fill="#FFF000"/><rect x="372.63" y="141.11" width="11.74" height="12.01" fill="#FFD800"/><rect x="384.07" y="141.11" width="11.74" height="12.01" fill="#FFBE10"/><rect x="395.51" y="141.11" width="11.74" height="12.01" fill="#FFA210"/><rect x="406.95" y="141.11" width="11.74" height="12.01" fill="#FFBE10"/><rect x="418.39" y="141.11" width="11.74" height="12.01" fill="#FFD800"/><rect x="429.83" y="141.11" width="11.74" height="12.01" fill="#FFD800"/><rect x="441.26" y="141.11" width="11.74" height="12.01" fill="#FFD800"/><rect x="452.70" y="141.11" width="11.74" height="12.01" fill="#FFD800"/><rect x="464.14" y="141.11" width="11.74" height="12.01" fill="#FFD800"/><rect x="475.58" y="141.11" width="5.72" height="12.01" fill="#FFD800"/><rect x="304.00" y="152.82" width="11.74" height="12.01" fill="#FFD800"/><rect x="315.44" y="152.82" width="11.74" height="12.01" fill="#FFD800"/><rect x="326.88" y="152.82" width="11.74" height="12.01" fill="#FFD800"/><rect x="338.32" y="152.82" width="11.74" height="12.01" fill="#FFF000"/><rect x="349.75" y="152.82" width="11.74" height="12.01" fill="#FFF000"/><rect x="361.19" y="152.82" width="11.74" height="12.01" fill="#FFF000"/><rect x="372.63" y="152.82" width="11.74" height="12.01" fill="#FFD800"/><rect x="384.07" y="152.82" width="11.74" height="12.01" fill="#FFD800"/><rect x="395.51" y="152.82" width="11.74" height="12.01" fill="#FFBE10"/><rect x="406.95" y="152.82" width="11.74" height="12.01" fill="#FFD800"/><rect x="418.39" y="152.82" width="11.74" height="12.01" fill="#FFBE10"/><rect x="429.83" y="152.82" width="11.74" height="12.01" fill="#FFD800"/><rect x="441.26" y="152.82" width="11.74" height="12.01" fill="#FFD800"/><rect x="452.70" y="152.82" width="11.74" height="12.01" fill="#FFBE10"/><rect x="464.14" y="152.82" width="11.74" height="12.01" fill="#FFD800"/><rect x="475.58" y="152.82" width="5.72" height="12.01" fill="#FFD800"/><rect x="304.00" y="164.53" width="11.74" height="12.01" fill="#FFF000"/><rect x="315.44" y="164.53" width="11.74" height="12.01" fill="#FFD800"/><rect x="326.88" y="164.53" width="11.74" height="12.01" fill="#FFD800"/><rect x="338.32" y="164.53" width="11.74" height="12.01" fill="#FFF000"/><rect x="349.75" y="164.53" width="11.74" height="12.01" fill="#FFF000"/><rect x="361.19" y="164.53" width="11.74" height="12.01" fill="#FFF000"/><rect x="372.63" y="164.53" width="11.74" height="12.01" fill="#FFD800"/><rect x="384.07" y="164.53" width="11.74" height="12.01" fill="#FFD800"/><rect x="395.51" y="164.53" width="11.74" height="12.01" fill="#FFBE10"/><rect x="406.95" y="164.53" width="11.74" height="12.01" fill="#FFBE10"/><rect x="418.39" y="164.53" width="11.74" height="12.01" fill="#FFA210"/><rect x="429.83" y="164.53" width="11.74" height="12.01" fill="#FFD800"/><rect x="441.26" y="164.53" width="11.74" height="12.01" fill="#FFBE10"/><rect x="452.70" y="164.53" width="11.74" height="12.01" fill="#FFD800"/><rect x="464.14" y="164.53" width="11.74" height="12.01" fill="#FFD800"/><rect x="475.58" y="164.53" width="5.72" height="12.01" fill="#FFF000"/><rect x="304.00" y="176.24" width="11.74" height="12.01" fill="#FFD800"/><rect x="315.44" y="176.24" width="11.74" height="12.01" fill="#FFD800"/><rect x="326.88" y="176.24" width="11.74" height="12.01" fill="#FFD800"/><rect x="338.32" y="176.24" width="11.74" height="12.01" fill="#FFF000"/><rect x="349.75" y="176.24" width="11.74" height="12.01" fill="#FFFF86"/><rect x="361.19" y="176.24" width="11.74" height="12.01" fill="#FFFF86"/><rect x="372.63" y="176.24" width="11.74" height="12.01" fill="#FFF000"/><rect x="384.07" y="176.24" width="11.74" height="12.01" fill="#FFF000"/><rect x="395.51" y="176.24" width="11.74" height="12.01" fill="#FFD800"/><rect x="406.95" y="176.24" width="11.74" height="12.01" fill="#FFBE10"/><rect x="418.39" y="176.24" width="11.74" height="12.01" fill="#FFA210"/><rect x="429.83" y="176.24" width="11.74" height="12.01" fill="#FFD800"/><rect x="441.26" y="176.24" width="11.74" height="12.01" fill="#FFD800"/><rect x="452.70" y="176.24" width="11.74" height="12.01" fill="#FFD800"/><rect x="464.14" y="176.24" width="11.74" height="12.01" fill="#FFF000"/><rect x="475.58" y="176.24" width="5.72" height="12.01" fill="#FFF000"/><rect x="304.00" y="187.96" width="11.74" height="12.01" fill="#FFD800"/><rect x="315.44" y="187.96" width="11.74" height="12.01" fill="#FFD800"/><rect x="326.88" y="187.96" width="11.74" height="12.01" fill="#FFD800"/><rect x="338.32" y="187.96" width="11.74" height="12.01" fill="#FFF000"/><rect x="349.75" y="187.96" width="11.74" height="12.01" fill="#FFFF86"/><rect x="361.19" y="187.96" width="11.74" height="12.01" fill="#FFFF86"/><rect x="372.63" y="187.96" width="11.74" height="12.01" fill="#FFF000"/><rect x="384.07" y="187.96" width="11.74" height="12.01" fill="#FFF000"/><rect x="395.51" y="187.96" width="11.74" height="12.01" fill="#FFF000"/><rect x="406.95" y="187.96" width="11.74" height="12.01" fill="#FFD800"/><rect x="418.39" y="187.96" width="11.74" height="12.01" fill="#FFD800"/><rect x="429.83" y="187.96" width="11.74" height="12.01" fill="#FFF000"/><rect x="441.26" y="187.96" width="11.74" height="12.01" fill="#FFD800"/><rect x="452.70" y="187.96" width="11.74" height="12.01" fill="#FFF000"/><rect x="464.14" y="187.96" width="11.74" height="12.01" fill="#FFFF86"/><rect x="475.58" y="187.96" width="5.72" height="12.01" fill="#FFFF86"/><rect x="304.00" y="199.67" width="11.74" height="12.01" fill="#FFD800"/><rect x="315.44" y="199.67" width="11.74" height="12.01" fill="#FFD800"/><rect x="326.88" y="199.67" width="11.74" height="12.01" fill="#FFF000"/><rect x="338.32" y="199.67" width="11.74" height="12.01" fill="#FFF000"/><rect x="349.75" y="199.67" width="11.74" height="12.01" fill="#FFF000"/><rect x="361.19" y="199.67" width="11.74" height="12.01" fill="#FFF000"/><rect x="372.63" y="199.67" width="11.74" height="12.01" fill="#FFF000"/><rect x="384.07" y="199.67" width="11.74" height="12.01" fill="#FFF000"/><rect x="395.51" y="199.67" width="11.74" height="12.01" fill="#FFF000"/><rect x="406.95" y="199.67" width="11.74" height="12.01" fill="#FFD800"/><rect x="418.39" y="199.67" width="11.74" height="12.01" fill="#FFF000"/><rect x="429.83" y="199.67" width="11.74" height="12.01" fill="#FFF000"/><rect x="441.26" y="199.67" width="11.74" height="12.01" fill="#FFF000"/><rect x="452.70" y="199.67" width="11.74" height="12.01" fill="#FFFF86"/><rect x="464.14" y="199.67" width="11.74" height="12.01" fill="#FFFF86"/><rect x="475.58" y="199.67" width="5.72" height="12.01" fill="#FFFF86"/><rect x="304.00" y="211.38" width="11.74" height="12.01" fill="#FFD800"/><rect x="315.44" y="211.38" width="11.74" height="12.01" fill="#FFD800"/><rect x="326.88" y="211.38" width="11.74" height="12.01" fill="#FFF000"/><rect x="338.32" y="211.38" width="11.74" height="12.01" fill="#FFF000"/><rect x="349.75" y="211.38" width="11.74" height="12.01" fill="#FFF000"/><rect x="361.19" y="211.38" width="11.74" height="12.01" fill="#FFF000"/><rect x="372.63" y="211.38" width="11.74" height="12.01" fill="#FFF000"/><rect x="384.07" y="211.38" width="11.74" height="12.01" fill="#FFD800"/><rect x="395.51" y="211.38" width="11.74" height="12.01" fill="#FFF000"/><rect x="406.95" y="211.38" width="11.74" height="12.01" fill="#FFF000"/><rect x="418.39" y="211.38" width="11.74" height="12.01" fill="#FFF000"/><rect x="429.83" y="211.38" width="11.74" height="12.01" fill="#FFF000"/><rect x="441.26" y="211.38" width="11.74" height="12.01" fill="#FFFF86"/><rect x="452.70" y="211.38" width="11.74" height="12.01" fill="#FFFF86"/><rect x="464.14" y="211.38" width="11.74" height="12.01" fill="#FFFF86"/><rect x="475.58" y="211.38" width="5.72" height="12.01" fill="#FFFF86"/><rect x="304.00" y="223.09" width="11.74" height="11.71" fill="#FFD800"/><rect x="315.44" y="223.09" width="11.74" height="11.71" fill="#FFD800"/><rect x="326.88" y="223.09" width="11.74" height="11.71" fill="#FFD800"/><rect x="338.32" y="223.09" width="11.74" height="11.71" fill="#FFF000"/><rect x="349.75" y="223.09" width="11.74" height="11.71" fill="#FFF000"/><rect x="361.19" y="223.09" width="11.74" height="11.71" fill="#FFF000"/><rect x="372.63" y="223.09" width="11.74" height="11.71" fill="#FFF000"/><rect x="384.07" y="223.09" width="11.74" height="11.71" fill="#FFD800"/><rect x="395.51" y="223.09" width="11.74" height="11.71" fill="#FFF000"/><rect x="406.95" y="223.09" width="11.74" height="11.71" fill="#FFF000"/><rect x="418.39" y="223.09" width="11.74" height="11.71" fill="#FFF000"/><rect x="429.83" y="223.09" width="11.74" height="11.71" fill="#FFF000"/><rect x="441.26" y="223.09" width="11.74" height="11.71" fill="#FFFF86"/><rect x="452.70" y="223.09" width="11.74" height="11.71" fill="#FFFF86"/><rect x="464.14" y="223.09" width="11.74" height="11.71" fill="#FFFFC4"/><rect x="475.58" y="223.09" width="5.72" height="11.71" fill="#FFFF86"/></g><path d="M355.8,79.9 L357.1,82.3 L357.8,85.3 L358.6,88.1 L360.6,88.8 L362.5,87.7 L364.9,86.9 L367.2,88.1 L369.6,87.7 L371.6,86.6 L372.3,83.0 L374.1,81.9 L378.8,81.3 L382.3,79.6 L385.8,78.4 L389.4,77.9 L394.7,76.0 L397.0,77.9 L400.0,81.9 L402.4,85.4 L403.5,88.9 L405.2,93.0 L407.6,96.6 L408.7,100.1 L408.2,104.8 L405.8,108.3 L403.5,112.4 L402.4,116.4 L400.0,120.0 L396.4,122.3 L395.3,125.9 L395.8,129.2 L393.0,130.9 L390.8,134.3 L389.6,138.8 L388.0,143.2 L386.8,147.7 L385.7,152.1 L384.1,157.7 L382.3,158.8 L380.7,156.6 L378.4,154.3 L375.1,152.7 L372.9,151.0 L374.5,148.2 L378.4,147.1 L376.8,145.4 L374.0,142.7 L374.0,138.8 L371.8,135.9 L368.4,133.6 L364.5,131.5 L361.7,132.6 L357.2,133.6 L353.3,133.6 L352.7,130.4 L352.1,127.0 L349.9,129.8 L348.8,133.1 L346.0,130.9 L343.2,128.1 L340.4,125.4 L337.6,123.1 L339.8,116.3 L340.2,113.8 L339.8,109.6 L339.8,106.4 L341.4,102.5 L342.2,99.5 L342.5,96.3 L342.9,93.1 L343.7,90.0 L345.3,86.9 L346.8,84.6 L349.2,83.0 L351.5,82.3 L353.9,80.3 Z" fill="none" stroke="#2f2fff" stroke-width="0.95"/><circle cx="369.2" cy="121.9" r="2.4" fill="none" stroke="#2f2fff" stroke-width="0.95"/><path d="M401.5,22.8 L397.6,24.1 L392.0,26.9 L388.6,29.6 L384.2,32.4 L379.1,34.6 L376.3,36.4 L375.2,39.2 L373.0,41.9 L369.6,46.4 L367.3,51.4 L366.1,54.4 L365.5,58.5 L362.5,59.6 L358.4,59.1 L354.9,60.2 L351.4,60.2 L348.5,62.0 L346.1,60.2 L343.7,57.9 L341.5,56.8 L339.6,59.1 L339.6,65.0 L341.5,68.4 L342.0,72.0 L340.5,76.7 L338.2,79.9 L336.6,81.4 L335.1,84.6 L334.3,88.5 L333.9,92.4 L332.6,94.2 L330.9,98.9 L332.0,104.8 L330.3,108.3 L328.1,110.5 L326.6,113.2 L326.6,118.5 L328.9,122.0 L333.1,124.9 L333.7,128.4 L332.4,131.4 L335.4,134.3 L336.6,137.8 L335.4,142.5 L331.9,147.2 L329.6,150.6 L329.6,154.2 L325.5,157.1 L321.4,159.4 L318.4,162.4 L316.6,165.9 L315.9,169.1 L315.3,173.7 L314.0,180.3 L311.3,185.7 L309.2,190.3 L309.2,195.0 L307.9,199.0 L311.9,200.9 L315.3,203.0 L317.2,207.0 L318.6,210.2 L319.9,213.6 L319.9,216.9 L322.6,219.5 L325.3,221.5 L326.0,225.5 L326.6,228.9 L330.0,229.5 L335.3,228.9 L340.7,229.5 L346.0,230.8 L350.2,231.5 L353.3,231.7 L355.3,232.1 L357.6,233.7 L361.4,232.9 L365.2,231.4 L367.4,228.4 L369.0,224.6 L372.1,222.3 L375.9,220.8 L379.7,219.2 L382.0,216.2 L380.5,213.9 L376.7,213.1 L372.8,208.6 L370.5,202.4 L368.3,196.4 L368.3,190.3 L369.8,185.8 L370.5,179.6 L370.5,173.6 L371.3,169.0 L373.6,165.2 L375.9,161.4 L378.3,158.8 L380.5,157.3 L384.3,161.1 L388.7,161.8 L392.5,158.8 L395.5,155.9 L399.2,152.9 L403.0,151.4 L407.4,152.2 L411.2,153.6 L414.9,152.9 L418.6,153.6 L422.4,155.1 L425.3,156.6 L429.0,157.3 L433.6,156.6 L438.0,158.1 L442.5,159.6 L447.0,159.9 L450.7,158.8 L452.7,156.3 L453.7,153.9 L455.7,151.4 L458.3,148.1 L460.4,145.9 L462.5,146.8 L465.0,148.9 L467.5,146.8 L470.0,145.5 L473.4,144.5 L476.8,144.7 L480.3,145.1 L479.7,140.5 L478.8,136.3 L476.8,132.1 L476.0,127.9 L478.0,127.1 L478.0,124.0 L478.0,119.7 L476.8,116.4 L474.1,113.3 L470.8,110.6 L467.6,108.1 L467.6,104.1 L465.7,102.1 L461.1,100.2 L457.2,98.2 L453.3,96.3 L451.9,93.0 L448.7,90.4 L445.4,89.7 L440.9,90.4 L436.9,89.1 L433.7,85.2 L430.4,84.6 L426.5,81.3 L422.6,76.7 L418.6,71.5 L416.0,68.2 L413.0,65.2 L415.2,62.2 L413.3,58.5 L411.1,55.3 L409.3,53.1 L407.7,49.7 L407.1,45.3 L407.7,40.8 L408.8,37.4 L408.2,34.6 L405.4,33.0 L403.8,28.5 L402.7,24.1 Z" fill="none" stroke="#111" stroke-width="1.0" stroke-linejoin="round"/><circle cx="387.8" cy="50.2" r="1.1" fill="#000"/><text x="387.8" y="57.4" class="town">Gondar</text><circle cx="371.1" cy="103.0" r="1.1" fill="#000"/><text x="371.1" y="110.2" class="town">Lake Tana</text><circle cx="380.4" cy="157.5" r="1.1" fill="#000"/><text x="380.4" y="164.7" class="town">Bahir Dar</text><circle cx="320.3" cy="177.7" r="1.1" fill="#000"/><text x="320.3" y="184.9" class="town">Dangila</text><circle cx="452.6" cy="126.9" r="1.1" fill="#000"/><text x="452.6" y="134.1" class="town">Debre Tabor</text><circle cx="480.3" cy="145.1" r="1.1" fill="#000"/><text x="480.3" y="152.3" class="town">Mt Guna</text><line x1="338.3" y1="244.8" x2="338.3" y2="246.3" stroke="#333" stroke-width="0.4"/><text x="338.3" y="250.7" class="tick" text-anchor="middle">37.0°E</text><line x1="395.5" y1="244.8" x2="395.5" y2="246.3" stroke="#333" stroke-width="0.4"/><text x="395.5" y="250.7" class="tick" text-anchor="middle">37.5°E</text><line x1="452.7" y1="244.8" x2="452.7" y2="246.3" stroke="#333" stroke-width="0.4"/><text x="452.7" y="250.7" class="tick" text-anchor="middle">38.0°E</text><line x1="293.7" y1="228.9" x2="295.2" y2="228.9" stroke="#333" stroke-width="0.4"/><text x="293.0" y="230.1" class="tick" text-anchor="end">11.0°N</text><line x1="293.7" y1="170.4" x2="295.2" y2="170.4" stroke="#333" stroke-width="0.4"/><text x="293.0" y="171.6" class="tick" text-anchor="end">11.5°N</text><line x1="293.7" y1="111.8" x2="295.2" y2="111.8" stroke="#333" stroke-width="0.4"/><text x="293.0" y="113.0" class="tick" text-anchor="end">12.0°N</text><line x1="293.7" y1="53.3" x2="295.2" y2="53.3" stroke="#333" stroke-width="0.4"/><text x="293.0" y="54.5" class="tick" text-anchor="end">12.5°N</text><text x="392.6" y="256.4" class="axt" text-anchor="middle">Longitude</text><text transform="translate(279.2,129.4) rotate(-90)" class="axt" text-anchor="middle">Latitude</text><rect x="298.3" y="238.7" width="21.0" height="3.1" fill="#000" stroke="#222" stroke-width="0.3"/><rect x="319.3" y="238.7" width="21.0" height="3.1" fill="#fff" stroke="#222" stroke-width="0.3"/><rect x="340.3" y="238.7" width="21.0" height="3.1" fill="#000" stroke="#222" stroke-width="0.3"/><rect x="361.3" y="238.7" width="21.0" height="3.1" fill="#fff" stroke="#222" stroke-width="0.3"/><text x="384.1" y="241.4" class="km">80 km</text><circle cx="308.3" cy="27.2" r="5.4" fill="none" stroke="#555" stroke-width="0.5"/><path d="M307.8,20.2 L312.0,31.9 L307.8,29.2 Z" fill="#000"/><path d="M307.8,20.2 L303.6,32.1 L307.8,29.2 Z" fill="#fff" stroke="#000" stroke-width="0.4"/><text x="307.8" y="18.0" class="nlab" text-anchor="middle">N</text><text x="346.0" y="8.1" class="tl">b.</text><text x="357.0" y="8.1" class="title" textLength="37.6" lengthAdjust="spacingAndGlyphs">R-factor Trend</text><text x="396.0" y="8.1" class="title" font-weight="bold" textLength="38.0" lengthAdjust="spacingAndGlyphs">(1995 – 2005)</text><text x="497.3" y="91.0" class="leg">Sen's slope</text><rect x="497.8" y="93.9" width="3.0" height="77.2" fill="url(#cb)"/><line x1="497.8" y1="95.6" x2="498.40000000000003" y2="95.6" stroke="#fff" stroke-width="0.3"/><text x="503.4" y="96.9" class="legs">15</text><line x1="497.8" y1="109.9" x2="498.40000000000003" y2="109.9" stroke="#fff" stroke-width="0.3"/><text x="503.4" y="111.2" class="legs">10</text><line x1="497.8" y1="124.1" x2="498.40000000000003" y2="124.1" stroke="#fff" stroke-width="0.3"/><text x="503.4" y="125.4" class="legs">5</text><line x1="497.8" y1="138.2" x2="498.40000000000003" y2="138.2" stroke="#fff" stroke-width="0.3"/><text x="503.4" y="139.5" class="legs">0</text><line x1="497.8" y1="152.2" x2="498.40000000000003" y2="152.2" stroke="#fff" stroke-width="0.3"/><text x="503.4" y="153.5" class="legs">−5</text><line x1="497.8" y1="166.0" x2="498.40000000000003" y2="166.0" stroke="#fff" stroke-width="0.3"/><text x="503.4" y="167.3" class="legs">−10</text><rect x="21.9" y="275.5" width="193.7" height="231.0" fill="#fff" stroke="#b4b4b4" stroke-width="0.7"/><line x1="64.8" y1="275.5" x2="64.8" y2="506.5" stroke="#ebebeb" stroke-width="0.5"/><line x1="121.6" y1="275.5" x2="121.6" y2="506.5" stroke="#ebebeb" stroke-width="0.5"/><line x1="178.4" y1="275.5" x2="178.4" y2="506.5" stroke="#ebebeb" stroke-width="0.5"/><line x1="21.9" y1="489.7" x2="215.6" y2="489.7" stroke="#ebebeb" stroke-width="0.5"/><line x1="21.9" y1="431.7" x2="215.6" y2="431.7" stroke="#ebebeb" stroke-width="0.5"/><line x1="21.9" y1="373.7" x2="215.6" y2="373.7" stroke="#ebebeb" stroke-width="0.5"/><line x1="21.9" y1="315.7" x2="215.6" y2="315.7" stroke="#ebebeb" stroke-width="0.5"/><g shape-rendering="crispEdges"><rect x="30.70" y="286.70" width="11.66" height="11.90" fill="#FF8406"/><rect x="42.06" y="286.70" width="11.66" height="11.90" fill="#FF8406"/><rect x="53.42" y="286.70" width="11.66" height="11.90" fill="#FF8406"/><rect x="64.78" y="286.70" width="11.66" height="11.90" fill="#FF8406"/><rect x="76.15" y="286.70" width="11.66" height="11.90" fill="#FF8406"/><rect x="87.51" y="286.70" width="11.66" height="11.90" fill="#FFA210"/><rect x="98.87" y="286.70" width="11.66" height="11.90" fill="#FFA210"/><rect x="110.23" y="286.70" width="11.66" height="11.90" fill="#FFA210"/><rect x="121.59" y="286.70" width="11.66" height="11.90" fill="#FFBE10"/><rect x="132.95" y="286.70" width="11.66" height="11.90" fill="#FFD800"/><rect x="144.31" y="286.70" width="11.66" height="11.90" fill="#FFD800"/><rect x="155.67" y="286.70" width="11.66" height="11.90" fill="#FFD800"/><rect x="167.04" y="286.70" width="11.66" height="11.90" fill="#FFD800"/><rect x="178.40" y="286.70" width="11.66" height="11.90" fill="#FFD800"/><rect x="189.76" y="286.70" width="11.66" height="11.90" fill="#FFD800"/><rect x="201.12" y="286.70" width="5.68" height="11.90" fill="#FFD800"/><rect x="30.70" y="298.30" width="11.66" height="11.90" fill="#FFA210"/><rect x="42.06" y="298.30" width="11.66" height="11.90" fill="#FF8406"/><rect x="53.42" y="298.30" width="11.66" height="11.90" fill="#FF680C"/><rect x="64.78" y="298.30" width="11.66" height="11.90" fill="#FF8406"/><rect x="76.15" y="298.30" width="11.66" height="11.90" fill="#FF8406"/><rect x="87.51" y="298.30" width="11.66" height="11.90" fill="#FFA210"/><rect x="98.87" y="298.30" width="11.66" height="11.90" fill="#FFA210"/><rect x="110.23" y="298.30" width="11.66" height="11.90" fill="#FFA210"/><rect x="121.59" y="298.30" width="11.66" height="11.90" fill="#FFBE10"/><rect x="132.95" y="298.30" width="11.66" height="11.90" fill="#FFD800"/><rect x="144.31" y="298.30" width="11.66" height="11.90" fill="#FFF000"/><rect x="155.67" y="298.30" width="11.66" height="11.90" fill="#FFF000"/><rect x="167.04" y="298.30" width="11.66" height="11.90" fill="#FFD800"/><rect x="178.40" y="298.30" width="11.66" height="11.90" fill="#FFF000"/><rect x="189.76" y="298.30" width="11.66" height="11.90" fill="#FFF000"/><rect x="201.12" y="298.30" width="5.68" height="11.90" fill="#FFF000"/><rect x="30.70" y="309.90" width="11.66" height="11.90" fill="#FF8406"/><rect x="42.06" y="309.90" width="11.66" height="11.90" fill="#FF8406"/><rect x="53.42" y="309.90" width="11.66" height="11.90" fill="#FF8406"/><rect x="64.78" y="309.90" width="11.66" height="11.90" fill="#FF8406"/><rect x="76.15" y="309.90" width="11.66" height="11.90" fill="#FF8406"/><rect x="87.51" y="309.90" width="11.66" height="11.90" fill="#FF8406"/><rect x="98.87" y="309.90" width="11.66" height="11.90" fill="#FFA210"/><rect x="110.23" y="309.90" width="11.66" height="11.90" fill="#FFA210"/><rect x="121.59" y="309.90" width="11.66" height="11.90" fill="#FFA210"/><rect x="132.95" y="309.90" width="11.66" height="11.90" fill="#FFBE10"/><rect x="144.31" y="309.90" width="11.66" height="11.90" fill="#FFF000"/><rect x="155.67" y="309.90" width="11.66" height="11.90" fill="#FFF000"/><rect x="167.04" y="309.90" width="11.66" height="11.90" fill="#FFF000"/><rect x="178.40" y="309.90" width="11.66" height="11.90" fill="#FFF000"/><rect x="189.76" y="309.90" width="11.66" height="11.90" fill="#FFF000"/><rect x="201.12" y="309.90" width="5.68" height="11.90" fill="#FFF000"/><rect x="30.70" y="321.50" width="11.66" height="11.90" fill="#FF8406"/><rect x="42.06" y="321.50" width="11.66" height="11.90" fill="#FF8406"/><rect x="53.42" y="321.50" width="11.66" height="11.90" fill="#FF8406"/><rect x="64.78" y="321.50" width="11.66" height="11.90" fill="#FF8406"/><rect x="76.15" y="321.50" width="11.66" height="11.90" fill="#FF8406"/><rect x="87.51" y="321.50" width="11.66" height="11.90" fill="#FFA210"/><rect x="98.87" y="321.50" width="11.66" height="11.90" fill="#FF8406"/><rect x="110.23" y="321.50" width="11.66" height="11.90" fill="#FFA210"/><rect x="121.59" y="321.50" width="11.66" height="11.90" fill="#FFA210"/><rect x="132.95" y="321.50" width="11.66" height="11.90" fill="#FFBE10"/><rect x="144.31" y="321.50" width="11.66" height="11.90" fill="#FFD800"/><rect x="155.67" y="321.50" width="11.66" height="11.90" fill="#FFF000"/><rect x="167.04" y="321.50" width="11.66" height="11.90" fill="#FFF000"/><rect x="178.40" y="321.50" width="11.66" height="11.90" fill="#FFF000"/><rect x="189.76" y="321.50" width="11.66" height="11.90" fill="#FFF000"/><rect x="201.12" y="321.50" width="5.68" height="11.90" fill="#FFF000"/><rect x="30.70" y="333.10" width="11.66" height="11.90" fill="#FF8406"/><rect x="42.06" y="333.10" width="11.66" height="11.90" fill="#FF8406"/><rect x="53.42" y="333.10" width="11.66" height="11.90" fill="#FF8406"/><rect x="64.78" y="333.10" width="11.66" height="11.90" fill="#FFA210"/><rect x="76.15" y="333.10" width="11.66" height="11.90" fill="#FFA210"/><rect x="87.51" y="333.10" width="11.66" height="11.90" fill="#FFA210"/><rect x="98.87" y="333.10" width="11.66" height="11.90" fill="#FFA210"/><rect x="110.23" y="333.10" width="11.66" height="11.90" fill="#FFA210"/><rect x="121.59" y="333.10" width="11.66" height="11.90" fill="#FFBE10"/><rect x="132.95" y="333.10" width="11.66" height="11.90" fill="#FFBE10"/><rect x="144.31" y="333.10" width="11.66" height="11.90" fill="#FFBE10"/><rect x="155.67" y="333.10" width="11.66" height="11.90" fill="#FFF000"/><rect x="167.04" y="333.10" width="11.66" height="11.90" fill="#FFF000"/><rect x="178.40" y="333.10" width="11.66" height="11.90" fill="#FFF000"/><rect x="189.76" y="333.10" width="11.66" height="11.90" fill="#FFF000"/><rect x="201.12" y="333.10" width="5.68" height="11.90" fill="#FFF000"/><rect x="30.70" y="344.70" width="11.66" height="11.90" fill="#FF8406"/><rect x="42.06" y="344.70" width="11.66" height="11.90" fill="#FF8406"/><rect x="53.42" y="344.70" width="11.66" height="11.90" fill="#FF8406"/><rect x="64.78" y="344.70" width="11.66" height="11.90" fill="#FFA210"/><rect x="76.15" y="344.70" width="11.66" height="11.90" fill="#FFBE10"/><rect x="87.51" y="344.70" width="11.66" height="11.90" fill="#FFBE10"/><rect x="98.87" y="344.70" width="11.66" height="11.90" fill="#FFD800"/><rect x="110.23" y="344.70" width="11.66" height="11.90" fill="#FFBE10"/><rect x="121.59" y="344.70" width="11.66" height="11.90" fill="#FFBE10"/><rect x="132.95" y="344.70" width="11.66" height="11.90" fill="#FFD800"/><rect x="144.31" y="344.70" width="11.66" height="11.90" fill="#FFF000"/><rect x="155.67" y="344.70" width="11.66" height="11.90" fill="#FFF000"/><rect x="167.04" y="344.70" width="11.66" height="11.90" fill="#FFF000"/><rect x="178.40" y="344.70" width="11.66" height="11.90" fill="#FFFF86"/><rect x="189.76" y="344.70" width="11.66" height="11.90" fill="#FFFF86"/><rect x="201.12" y="344.70" width="5.68" height="11.90" fill="#FFF000"/><rect x="30.70" y="356.30" width="11.66" height="11.90" fill="#FF8406"/><rect x="42.06" y="356.30" width="11.66" height="11.90" fill="#FF8406"/><rect x="53.42" y="356.30" width="11.66" height="11.90" fill="#FFA210"/><rect x="64.78" y="356.30" width="11.66" height="11.90" fill="#FFA210"/><rect x="76.15" y="356.30" width="11.66" height="11.90" fill="#FFBE10"/><rect x="87.51" y="356.30" width="11.66" height="11.90" fill="#FFD800"/><rect x="98.87" y="356.30" width="11.66" height="11.90" fill="#FFD800"/><rect x="110.23" y="356.30" width="11.66" height="11.90" fill="#FFD800"/><rect x="121.59" y="356.30" width="11.66" height="11.90" fill="#FFBE10"/><rect x="132.95" y="356.30" width="11.66" height="11.90" fill="#FFD800"/><rect x="144.31" y="356.30" width="11.66" height="11.90" fill="#FFF000"/><rect x="155.67" y="356.30" width="11.66" height="11.90" fill="#FFF000"/><rect x="167.04" y="356.30" width="11.66" height="11.90" fill="#FFF000"/><rect x="178.40" y="356.30" width="11.66" height="11.90" fill="#FFFF86"/><rect x="189.76" y="356.30" width="11.66" height="11.90" fill="#FFFF86"/><rect x="201.12" y="356.30" width="5.68" height="11.90" fill="#FFFF86"/><rect x="30.70" y="367.90" width="11.66" height="11.90" fill="#FF680C"/><rect x="42.06" y="367.90" width="11.66" height="11.90" fill="#FF8406"/><rect x="53.42" y="367.90" width="11.66" height="11.90" fill="#FFA210"/><rect x="64.78" y="367.90" width="11.66" height="11.90" fill="#FFBE10"/><rect x="76.15" y="367.90" width="11.66" height="11.90" fill="#FFBE10"/><rect x="87.51" y="367.90" width="11.66" height="11.90" fill="#FFD800"/><rect x="98.87" y="367.90" width="11.66" height="11.90" fill="#FFD800"/><rect x="110.23" y="367.90" width="11.66" height="11.90" fill="#FFF000"/><rect x="121.59" y="367.90" width="11.66" height="11.90" fill="#FFBE10"/><rect x="132.95" y="367.90" width="11.66" height="11.90" fill="#FFD800"/><rect x="144.31" y="367.90" width="11.66" height="11.90" fill="#FFF000"/><rect x="155.67" y="367.90" width="11.66" height="11.90" fill="#FFF000"/><rect x="167.04" y="367.90" width="11.66" height="11.90" fill="#FFF000"/><rect x="178.40" y="367.90" width="11.66" height="11.90" fill="#FFFF86"/><rect x="189.76" y="367.90" width="11.66" height="11.90" fill="#FFFF86"/><rect x="201.12" y="367.90" width="5.68" height="11.90" fill="#FFFF86"/><rect x="30.70" y="379.50" width="11.66" height="11.90" fill="#FF8406"/><rect x="42.06" y="379.50" width="11.66" height="11.90" fill="#FF8406"/><rect x="53.42" y="379.50" width="11.66" height="11.90" fill="#FFA210"/><rect x="64.78" y="379.50" width="11.66" height="11.90" fill="#FFBE10"/><rect x="76.15" y="379.50" width="11.66" height="11.90" fill="#FFD800"/><rect x="87.51" y="379.50" width="11.66" height="11.90" fill="#FFF000"/><rect x="98.87" y="379.50" width="11.66" height="11.90" fill="#FFF000"/><rect x="110.23" y="379.50" width="11.66" height="11.90" fill="#FFD800"/><rect x="121.59" y="379.50" width="11.66" height="11.90" fill="#FFD800"/><rect x="132.95" y="379.50" width="11.66" height="11.90" fill="#FFD800"/><rect x="144.31" y="379.50" width="11.66" height="11.90" fill="#FFF000"/><rect x="155.67" y="379.50" width="11.66" height="11.90" fill="#FFF000"/><rect x="167.04" y="379.50" width="11.66" height="11.90" fill="#FFF000"/><rect x="178.40" y="379.50" width="11.66" height="11.90" fill="#FFFF86"/><rect x="189.76" y="379.50" width="11.66" height="11.90" fill="#FFFF86"/><rect x="201.12" y="379.50" width="5.68" height="11.90" fill="#FFFF86"/><rect x="30.70" y="391.10" width="11.66" height="11.90" fill="#FF8406"/><rect x="42.06" y="391.10" width="11.66" height="11.90" fill="#FF8406"/><rect x="53.42" y="391.10" width="11.66" height="11.90" fill="#FF8406"/><rect x="64.78" y="391.10" width="11.66" height="11.90" fill="#FFBE10"/><rect x="76.15" y="391.10" width="11.66" height="11.90" fill="#FFD800"/><rect x="87.51" y="391.10" width="11.66" height="11.90" fill="#FFD800"/><rect x="98.87" y="391.10" width="11.66" height="11.90" fill="#FFD800"/><rect x="110.23" y="391.10" width="11.66" height="11.90" fill="#FFD800"/><rect x="121.59" y="391.10" width="11.66" height="11.90" fill="#FFBE10"/><rect x="132.95" y="391.10" width="11.66" height="11.90" fill="#FFBE10"/><rect x="144.31" y="391.10" width="11.66" height="11.90" fill="#FFD800"/><rect x="155.67" y="391.10" width="11.66" height="11.90" fill="#FFD800"/><rect x="167.04" y="391.10" width="11.66" height="11.90" fill="#FFD800"/><rect x="178.40" y="391.10" width="11.66" height="11.90" fill="#FFD800"/><rect x="189.76" y="391.10" width="11.66" height="11.90" fill="#FFD800"/><rect x="201.12" y="391.10" width="5.68" height="11.90" fill="#FFF000"/><rect x="30.70" y="402.70" width="11.66" height="11.90" fill="#FF8406"/><rect x="42.06" y="402.70" width="11.66" height="11.90" fill="#FF8406"/><rect x="53.42" y="402.70" width="11.66" height="11.90" fill="#FF8406"/><rect x="64.78" y="402.70" width="11.66" height="11.90" fill="#FFA210"/><rect x="76.15" y="402.70" width="11.66" height="11.90" fill="#FFA210"/><rect x="87.51" y="402.70" width="11.66" height="11.90" fill="#FFA210"/><rect x="98.87" y="402.70" width="11.66" height="11.90" fill="#FFA210"/><rect x="110.23" y="402.70" width="11.66" height="11.90" fill="#FFA210"/><rect x="121.59" y="402.70" width="11.66" height="11.90" fill="#FFA210"/><rect x="132.95" y="402.70" width="11.66" height="11.90" fill="#FFBE10"/><rect x="144.31" y="402.70" width="11.66" height="11.90" fill="#FFBE10"/><rect x="155.67" y="402.70" width="11.66" height="11.90" fill="#FFBE10"/><rect x="167.04" y="402.70" width="11.66" height="11.90" fill="#FFBE10"/><rect x="178.40" y="402.70" width="11.66" height="11.90" fill="#FFBE10"/><rect x="189.76" y="402.70" width="11.66" height="11.90" fill="#FFD800"/><rect x="201.12" y="402.70" width="5.68" height="11.90" fill="#FFD800"/><rect x="30.70" y="414.30" width="11.66" height="11.90" fill="#FF8406"/><rect x="42.06" y="414.30" width="11.66" height="11.90" fill="#FF8406"/><rect x="53.42" y="414.30" width="11.66" height="11.90" fill="#FF8406"/><rect x="64.78" y="414.30" width="11.66" height="11.90" fill="#FFA210"/><rect x="76.15" y="414.30" width="11.66" height="11.90" fill="#FFA210"/><rect x="87.51" y="414.30" width="11.66" height="11.90" fill="#FFA210"/><rect x="98.87" y="414.30" width="11.66" height="11.90" fill="#FFA210"/><rect x="110.23" y="414.30" width="11.66" height="11.90" fill="#FF8406"/><rect x="121.59" y="414.30" width="11.66" height="11.90" fill="#FFA210"/><rect x="132.95" y="414.30" width="11.66" height="11.90" fill="#FFA210"/><rect x="144.31" y="414.30" width="11.66" height="11.90" fill="#FFBE10"/><rect x="155.67" y="414.30" width="11.66" height="11.90" fill="#FFA210"/><rect x="167.04" y="414.30" width="11.66" height="11.90" fill="#FFBE10"/><rect x="178.40" y="414.30" width="11.66" height="11.90" fill="#FFA210"/><rect x="189.76" y="414.30" width="11.66" height="11.90" fill="#FFBE10"/><rect x="201.12" y="414.30" width="5.68" height="11.90" fill="#FFA210"/><rect x="30.70" y="425.90" width="11.66" height="11.90" fill="#FF8406"/><rect x="42.06" y="425.90" width="11.66" height="11.90" fill="#FF8406"/><rect x="53.42" y="425.90" width="11.66" height="11.90" fill="#FFA210"/><rect x="64.78" y="425.90" width="11.66" height="11.90" fill="#FFA210"/><rect x="76.15" y="425.90" width="11.66" height="11.90" fill="#FFA210"/><rect x="87.51" y="425.90" width="11.66" height="11.90" fill="#FFA210"/><rect x="98.87" y="425.90" width="11.66" height="11.90" fill="#FFA210"/><rect x="110.23" y="425.90" width="11.66" height="11.90" fill="#FF8406"/><rect x="121.59" y="425.90" width="11.66" height="11.90" fill="#FFA210"/><rect x="132.95" y="425.90" width="11.66" height="11.90" fill="#FFA210"/><rect x="144.31" y="425.90" width="11.66" height="11.90" fill="#FFA210"/><rect x="155.67" y="425.90" width="11.66" height="11.90" fill="#FFBE10"/><rect x="167.04" y="425.90" width="11.66" height="11.90" fill="#FFA210"/><rect x="178.40" y="425.90" width="11.66" height="11.90" fill="#FFA210"/><rect x="189.76" y="425.90" width="11.66" height="11.90" fill="#FFA210"/><rect x="201.12" y="425.90" width="5.68" height="11.90" fill="#FFBE10"/><rect x="30.70" y="437.50" width="11.66" height="11.90" fill="#FF680C"/><rect x="42.06" y="437.50" width="11.66" height="11.90" fill="#FF8406"/><rect x="53.42" y="437.50" width="11.66" height="11.90" fill="#FF8406"/><rect x="64.78" y="437.50" width="11.66" height="11.90" fill="#FF8406"/><rect x="76.15" y="437.50" width="11.66" height="11.90" fill="#FF8406"/><rect x="87.51" y="437.50" width="11.66" height="11.90" fill="#FF8406"/><rect x="98.87" y="437.50" width="11.66" height="11.90" fill="#FF8406"/><rect x="110.23" y="437.50" width="11.66" height="11.90" fill="#FFA210"/><rect x="121.59" y="437.50" width="11.66" height="11.90" fill="#FF8406"/><rect x="132.95" y="437.50" width="11.66" height="11.90" fill="#FFA210"/><rect x="144.31" y="437.50" width="11.66" height="11.90" fill="#FFBE10"/><rect x="155.67" y="437.50" width="11.66" height="11.90" fill="#FFA210"/><rect x="167.04" y="437.50" width="11.66" height="11.90" fill="#FFA210"/><rect x="178.40" y="437.50" width="11.66" height="11.90" fill="#FFBE10"/><rect x="189.76" y="437.50" width="11.66" height="11.90" fill="#FFA210"/><rect x="201.12" y="437.50" width="5.68" height="11.90" fill="#FFA210"/><rect x="30.70" y="449.10" width="11.66" height="11.90" fill="#FF680C"/><rect x="42.06" y="449.10" width="11.66" height="11.90" fill="#FF8406"/><rect x="53.42" y="449.10" width="11.66" height="11.90" fill="#FF8406"/><rect x="64.78" y="449.10" width="11.66" height="11.90" fill="#FF8406"/><rect x="76.15" y="449.10" width="11.66" height="11.90" fill="#FF8406"/><rect x="87.51" y="449.10" width="11.66" height="11.90" fill="#FF8406"/><rect x="98.87" y="449.10" width="11.66" height="11.90" fill="#FF8406"/><rect x="110.23" y="449.10" width="11.66" height="11.90" fill="#FFA210"/><rect x="121.59" y="449.10" width="11.66" height="11.90" fill="#FFA210"/><rect x="132.95" y="449.10" width="11.66" height="11.90" fill="#FFA210"/><rect x="144.31" y="449.10" width="11.66" height="11.90" fill="#FFA210"/><rect x="155.67" y="449.10" width="11.66" height="11.90" fill="#FFA210"/><rect x="167.04" y="449.10" width="11.66" height="11.90" fill="#FFA210"/><rect x="178.40" y="449.10" width="11.66" height="11.90" fill="#FFA210"/><rect x="189.76" y="449.10" width="11.66" height="11.90" fill="#FFA210"/><rect x="201.12" y="449.10" width="5.68" height="11.90" fill="#FFA210"/><rect x="30.70" y="460.70" width="11.66" height="11.90" fill="#FF8406"/><rect x="42.06" y="460.70" width="11.66" height="11.90" fill="#FF8406"/><rect x="53.42" y="460.70" width="11.66" height="11.90" fill="#FF8406"/><rect x="64.78" y="460.70" width="11.66" height="11.90" fill="#FF680C"/><rect x="76.15" y="460.70" width="11.66" height="11.90" fill="#FF680C"/><rect x="87.51" y="460.70" width="11.66" height="11.90" fill="#FF8406"/><rect x="98.87" y="460.70" width="11.66" height="11.90" fill="#FF8406"/><rect x="110.23" y="460.70" width="11.66" height="11.90" fill="#FFA210"/><rect x="121.59" y="460.70" width="11.66" height="11.90" fill="#FFA210"/><rect x="132.95" y="460.70" width="11.66" height="11.90" fill="#FFA210"/><rect x="144.31" y="460.70" width="11.66" height="11.90" fill="#FFA210"/><rect x="155.67" y="460.70" width="11.66" height="11.90" fill="#FF8406"/><rect x="167.04" y="460.70" width="11.66" height="11.90" fill="#FFA210"/><rect x="178.40" y="460.70" width="11.66" height="11.90" fill="#FFA210"/><rect x="189.76" y="460.70" width="11.66" height="11.90" fill="#FFA210"/><rect x="201.12" y="460.70" width="5.68" height="11.90" fill="#FFA210"/><rect x="30.70" y="472.30" width="11.66" height="11.90" fill="#FF8406"/><rect x="42.06" y="472.30" width="11.66" height="11.90" fill="#FF8406"/><rect x="53.42" y="472.30" width="11.66" height="11.90" fill="#FF680C"/><rect x="64.78" y="472.30" width="11.66" height="11.90" fill="#FF680C"/><rect x="76.15" y="472.30" width="11.66" height="11.90" fill="#FF680C"/><rect x="87.51" y="472.30" width="11.66" height="11.90" fill="#FF680C"/><rect x="98.87" y="472.30" width="11.66" height="11.90" fill="#FF8406"/><rect x="110.23" y="472.30" width="11.66" height="11.90" fill="#FFA210"/><rect x="121.59" y="472.30" width="11.66" height="11.90" fill="#FF8406"/><rect x="132.95" y="472.30" width="11.66" height="11.90" fill="#FFA210"/><rect x="144.31" y="472.30" width="11.66" height="11.90" fill="#FFA210"/><rect x="155.67" y="472.30" width="11.66" height="11.90" fill="#FF8406"/><rect x="167.04" y="472.30" width="11.66" height="11.90" fill="#FF8406"/><rect x="178.40" y="472.30" width="11.66" height="11.90" fill="#FF8406"/><rect x="189.76" y="472.30" width="11.66" height="11.90" fill="#FFA210"/><rect x="201.12" y="472.30" width="5.68" height="11.90" fill="#FFA210"/><rect x="30.70" y="483.90" width="11.66" height="11.60" fill="#FF8406"/><rect x="42.06" y="483.90" width="11.66" height="11.60" fill="#FF8406"/><rect x="53.42" y="483.90" width="11.66" height="11.60" fill="#FF8406"/><rect x="64.78" y="483.90" width="11.66" height="11.60" fill="#FF680C"/><rect x="76.15" y="483.90" width="11.66" height="11.60" fill="#FF680C"/><rect x="87.51" y="483.90" width="11.66" height="11.60" fill="#FF4A10"/><rect x="98.87" y="483.90" width="11.66" height="11.60" fill="#FF8406"/><rect x="110.23" y="483.90" width="11.66" height="11.60" fill="#FFA210"/><rect x="121.59" y="483.90" width="11.66" height="11.60" fill="#FFA210"/><rect x="132.95" y="483.90" width="11.66" height="11.60" fill="#FFA210"/><rect x="144.31" y="483.90" width="11.66" height="11.60" fill="#FFA210"/><rect x="155.67" y="483.90" width="11.66" height="11.60" fill="#FFA210"/><rect x="167.04" y="483.90" width="11.66" height="11.60" fill="#FFA210"/><rect x="178.40" y="483.90" width="11.66" height="11.60" fill="#FFA210"/><rect x="189.76" y="483.90" width="11.66" height="11.60" fill="#FFBE10"/><rect x="201.12" y="483.90" width="5.68" height="11.60" fill="#FFD800"/></g><circle cx="186.9" cy="353.4" r="0.85" fill="#56379e"/><path d="M82.2,342.1 L83.4,344.4 L84.1,347.4 L84.9,350.2 L86.9,350.9 L88.8,349.8 L91.2,349.0 L93.5,350.2 L95.9,349.8 L97.8,348.7 L98.5,345.1 L100.3,344.1 L105.0,343.5 L108.5,341.8 L112.0,340.5 L115.5,340.0 L120.7,338.2 L123.1,340.0 L126.0,344.1 L128.4,347.5 L129.5,351.0 L131.2,355.0 L133.6,358.6 L134.7,362.0 L134.2,366.7 L131.9,370.2 L129.5,374.2 L128.4,378.3 L126.0,381.8 L122.5,384.1 L121.4,387.6 L121.9,390.9 L119.1,392.6 L116.9,395.9 L115.7,400.4 L114.1,404.7 L113.0,409.2 L111.9,413.6 L110.2,419.1 L108.5,420.3 L106.9,418.0 L104.6,415.8 L101.4,414.2 L99.1,412.4 L100.8,409.7 L104.6,408.6 L103.0,407.0 L100.2,404.2 L100.2,400.4 L98.0,397.5 L94.6,395.3 L90.8,393.2 L88.0,394.3 L83.5,395.3 L79.6,395.3 L79.0,392.1 L78.5,388.7 L76.3,391.5 L75.2,394.8 L72.4,392.6 L69.7,389.8 L66.9,387.1 L64.0,384.9 L66.3,378.2 L66.7,375.6 L66.3,371.5 L66.3,368.3 L67.8,364.5 L68.6,361.4 L68.9,358.3 L69.3,355.2 L70.2,352.1 L71.7,349.0 L73.2,346.7 L75.6,345.1 L77.9,344.4 L80.3,342.5 Z" fill="none" stroke="#2f2fff" stroke-width="0.95"/><circle cx="95.5" cy="383.6" r="2.4" fill="none" stroke="#2f2fff" stroke-width="0.95"/><path d="M127.6,285.5 L123.7,286.8 L118.1,289.5 L114.7,292.3 L110.3,295.0 L105.3,297.2 L102.5,299.0 L101.5,301.7 L99.2,304.4 L95.9,308.9 L93.6,313.9 L92.4,316.8 L91.8,320.9 L88.8,322.0 L84.7,321.5 L81.3,322.6 L77.8,322.6 L74.9,324.3 L72.5,322.6 L70.2,320.3 L67.9,319.2 L66.1,321.5 L66.1,327.3 L67.9,330.7 L68.4,334.3 L67.0,338.9 L64.7,342.1 L63.1,343.6 L61.6,346.7 L60.8,350.6 L60.4,354.4 L59.1,356.3 L57.4,360.9 L58.5,366.7 L56.8,370.2 L54.7,372.4 L53.1,375.0 L53.1,380.3 L55.5,383.7 L59.6,386.7 L60.2,390.1 L58.9,393.1 L61.9,395.9 L63.1,399.5 L61.9,404.0 L58.4,408.7 L56.1,412.1 L56.1,415.7 L52.0,418.5 L47.9,420.9 L45.0,423.8 L43.2,427.3 L42.5,430.4 L41.9,435.0 L40.6,441.6 L37.9,446.8 L35.9,451.4 L35.9,456.1 L34.6,460.0 L38.6,461.9 L41.9,464.0 L43.9,467.9 L45.2,471.2 L46.5,474.5 L46.5,477.8 L49.2,480.4 L51.8,482.3 L52.5,486.3 L53.1,489.6 L56.5,490.2 L61.8,489.6 L67.1,490.2 L72.4,491.5 L76.6,492.3 L79.6,492.5 L81.7,492.9 L83.9,494.4 L87.7,493.6 L91.5,492.2 L93.7,489.1 L95.2,485.4 L98.3,483.1 L102.1,481.6 L105.9,480.1 L108.2,477.0 L106.7,474.8 L102.9,474.0 L99.0,469.5 L96.8,463.5 L94.5,457.5 L94.5,451.4 L96.1,446.9 L96.8,440.8 L96.8,434.9 L97.6,430.3 L99.8,426.5 L102.1,422.8 L104.5,420.3 L106.7,418.7 L110.4,422.5 L114.8,423.2 L118.6,420.3 L121.6,417.3 L125.2,414.4 L129.0,412.9 L133.4,413.7 L137.2,415.1 L140.8,414.4 L144.5,415.1 L148.3,416.6 L151.2,418.0 L154.9,418.7 L159.4,418.0 L163.8,419.5 L168.3,421.0 L172.7,421.3 L176.4,420.3 L178.4,417.7 L179.4,415.4 L181.4,412.9 L184.0,409.6 L186.0,407.5 L188.1,408.3 L190.6,410.4 L193.1,408.3 L195.6,407.1 L198.9,406.1 L202.3,406.3 L205.8,406.7 L205.2,402.1 L204.4,397.9 L202.3,393.8 L201.5,389.6 L203.5,388.8 L203.5,385.8 L203.5,381.5 L202.3,378.3 L199.7,375.1 L196.4,372.5 L193.2,370.0 L193.2,366.0 L191.3,364.1 L186.7,362.1 L182.8,360.2 L179.0,358.3 L177.6,355.0 L174.4,352.5 L171.1,351.8 L166.6,352.5 L162.7,351.2 L159.5,347.3 L156.2,346.7 L152.3,343.5 L148.5,338.9 L144.5,333.8 L141.9,330.5 L139.0,327.5 L141.1,324.5 L139.3,320.9 L137.1,317.7 L135.3,315.5 L133.7,312.2 L133.1,307.8 L133.7,303.3 L134.8,300.0 L134.2,297.2 L131.4,295.6 L129.8,291.2 L128.7,286.8 Z" fill="none" stroke="#111" stroke-width="1.0" stroke-linejoin="round"/><circle cx="113.9" cy="312.7" r="1.1" fill="#000"/><text x="113.9" y="319.9" class="town">Gondar</text><circle cx="97.4" cy="365.0" r="1.1" fill="#000"/><text x="97.4" y="372.2" class="town">Lake Tana</text><circle cx="106.6" cy="418.9" r="1.1" fill="#000"/><text x="106.6" y="426.1" class="town">Bahir Dar</text><circle cx="46.9" cy="438.9" r="1.1" fill="#000"/><text x="46.9" y="446.1" class="town">Dangila</text><circle cx="178.2" cy="388.6" r="1.1" fill="#000"/><text x="178.2" y="395.8" class="town">Debre Tabor</text><circle cx="205.8" cy="406.7" r="1.1" fill="#000"/><text x="205.8" y="413.9" class="town">Mt Guna</text><line x1="64.8" y1="506.5" x2="64.8" y2="508.0" stroke="#333" stroke-width="0.4"/><text x="64.8" y="512.4" class="tick" text-anchor="middle">37.0°E</text><line x1="121.6" y1="506.5" x2="121.6" y2="508.0" stroke="#333" stroke-width="0.4"/><text x="121.6" y="512.4" class="tick" text-anchor="middle">37.5°E</text><line x1="178.4" y1="506.5" x2="178.4" y2="508.0" stroke="#333" stroke-width="0.4"/><text x="178.4" y="512.4" class="tick" text-anchor="middle">38.0°E</text><line x1="20.4" y1="489.7" x2="21.9" y2="489.7" stroke="#333" stroke-width="0.4"/><text x="19.7" y="490.9" class="tick" text-anchor="end">11.0°N</text><line x1="20.4" y1="431.7" x2="21.9" y2="431.7" stroke="#333" stroke-width="0.4"/><text x="19.7" y="432.9" class="tick" text-anchor="end">11.5°N</text><line x1="20.4" y1="373.7" x2="21.9" y2="373.7" stroke="#333" stroke-width="0.4"/><text x="19.7" y="374.9" class="tick" text-anchor="end">12.0°N</text><line x1="20.4" y1="315.7" x2="21.9" y2="315.7" stroke="#333" stroke-width="0.4"/><text x="19.7" y="316.9" class="tick" text-anchor="end">12.5°N</text><text x="118.8" y="518.1" class="axt" text-anchor="middle">Longitude</text><text transform="translate(5.9,391.1) rotate(-90)" class="axt" text-anchor="middle">Latitude</text><rect x="25.0" y="500.4" width="20.9" height="3.1" fill="#000" stroke="#222" stroke-width="0.3"/><rect x="45.9" y="500.4" width="20.9" height="3.1" fill="#fff" stroke="#222" stroke-width="0.3"/><rect x="66.8" y="500.4" width="20.9" height="3.1" fill="#000" stroke="#222" stroke-width="0.3"/><rect x="87.7" y="500.4" width="20.9" height="3.1" fill="#fff" stroke="#222" stroke-width="0.3"/><text x="110.4" y="503.1" class="km">80 km</text><circle cx="34.6" cy="289.6" r="5.4" fill="none" stroke="#555" stroke-width="0.5"/><path d="M34.6,282.6 L38.8,294.3 L34.6,291.6 Z" fill="#000"/><path d="M34.6,282.6 L30.4,294.5 L34.6,291.6 Z" fill="#fff" stroke="#000" stroke-width="0.4"/><text x="34.6" y="281.0" class="nlab" text-anchor="middle">N</text><text x="72.4" y="271.6" class="tl">c.</text><text x="83.0" y="271.6" class="title" textLength="37.0" lengthAdjust="spacingAndGlyphs">R-factor Trend</text><text x="121.4" y="271.6" class="title" font-weight="bold" textLength="38.0" lengthAdjust="spacingAndGlyphs">(2005 – 2015)</text><text x="222.9" y="340.9" class="leg">Trend</text><circle cx="226.3" cy="347.4" r="0.72" fill="#6a50c0"/><text x="232.7" y="348.8" class="legs">Significantly Decreasing</text><text x="222.9" y="365.5" class="leg">Sen's slope</text><rect x="223.3" y="368.2" width="2.9" height="75.5" fill="url(#cb)"/><line x1="223.3" y1="380.8" x2="223.9" y2="380.8" stroke="#fff" stroke-width="0.3"/><text x="228.6" y="382.1" class="legs">0</text><line x1="223.3" y1="400.7" x2="223.9" y2="400.7" stroke="#fff" stroke-width="0.3"/><text x="228.6" y="402.0" class="legs">−10</text><line x1="223.3" y1="421.0" x2="223.9" y2="421.0" stroke="#fff" stroke-width="0.3"/><text x="228.6" y="422.3" class="legs">−20</text><line x1="223.3" y1="439.3" x2="223.9" y2="439.3" stroke="#fff" stroke-width="0.3"/><text x="228.6" y="440.6" class="legs">−30</text><rect x="295.2" y="276.7" width="194.40000000000003" height="231.7" fill="#fff" stroke="#b4b4b4" stroke-width="0.7"/><line x1="338.3" y1="276.7" x2="338.3" y2="508.4" stroke="#ebebeb" stroke-width="0.5"/><line x1="395.4" y1="276.7" x2="395.4" y2="508.4" stroke="#ebebeb" stroke-width="0.5"/><line x1="452.5" y1="276.7" x2="452.5" y2="508.4" stroke="#ebebeb" stroke-width="0.5"/><line x1="295.2" y1="491.8" x2="489.6" y2="491.8" stroke="#ebebeb" stroke-width="0.5"/><line x1="295.2" y1="433.5" x2="489.6" y2="433.5" stroke="#ebebeb" stroke-width="0.5"/><line x1="295.2" y1="375.2" x2="489.6" y2="375.2" stroke="#ebebeb" stroke-width="0.5"/><line x1="295.2" y1="316.9" x2="489.6" y2="316.9" stroke="#ebebeb" stroke-width="0.5"/><g shape-rendering="crispEdges"><rect x="304.10" y="287.70" width="11.71" height="11.96" fill="#FFF000"/><rect x="315.51" y="287.70" width="11.71" height="11.96" fill="#FFF000"/><rect x="326.93" y="287.70" width="11.71" height="11.96" fill="#FFF000"/><rect x="338.34" y="287.70" width="11.71" height="11.96" fill="#FFF000"/><rect x="349.75" y="287.70" width="11.71" height="11.96" fill="#FFD800"/><rect x="361.16" y="287.70" width="11.71" height="11.96" fill="#FFD800"/><rect x="372.58" y="287.70" width="11.71" height="11.96" fill="#FFD800"/><rect x="383.99" y="287.70" width="11.71" height="11.96" fill="#FFD800"/><rect x="395.40" y="287.70" width="11.71" height="11.96" fill="#FFBE10"/><rect x="406.82" y="287.70" width="11.71" height="11.96" fill="#FFBE10"/><rect x="418.23" y="287.70" width="11.71" height="11.96" fill="#FFA210"/><rect x="429.64" y="287.70" width="11.71" height="11.96" fill="#FFBE10"/><rect x="441.05" y="287.70" width="11.71" height="11.96" fill="#FFBE10"/><rect x="452.47" y="287.70" width="11.71" height="11.96" fill="#FFBE10"/><rect x="463.88" y="287.70" width="11.71" height="11.96" fill="#FFA210"/><rect x="475.29" y="287.70" width="5.71" height="11.96" fill="#FFBE10"/><rect x="304.10" y="299.36" width="11.71" height="11.96" fill="#FFF000"/><rect x="315.51" y="299.36" width="11.71" height="11.96" fill="#FFF000"/><rect x="326.93" y="299.36" width="11.71" height="11.96" fill="#FFF000"/><rect x="338.34" y="299.36" width="11.71" height="11.96" fill="#FFF000"/><rect x="349.75" y="299.36" width="11.71" height="11.96" fill="#FFD800"/><rect x="361.16" y="299.36" width="11.71" height="11.96" fill="#FFD800"/><rect x="372.58" y="299.36" width="11.71" height="11.96" fill="#FFD800"/><rect x="383.99" y="299.36" width="11.71" height="11.96" fill="#FFBE10"/><rect x="395.40" y="299.36" width="11.71" height="11.96" fill="#FFBE10"/><rect x="406.82" y="299.36" width="11.71" height="11.96" fill="#FFA210"/><rect x="418.23" y="299.36" width="11.71" height="11.96" fill="#FFA210"/><rect x="429.64" y="299.36" width="11.71" height="11.96" fill="#FFA210"/><rect x="441.05" y="299.36" width="11.71" height="11.96" fill="#FFBE10"/><rect x="452.47" y="299.36" width="11.71" height="11.96" fill="#FFBE10"/><rect x="463.88" y="299.36" width="11.71" height="11.96" fill="#FFA210"/><rect x="475.29" y="299.36" width="5.71" height="11.96" fill="#FFBE10"/><rect x="304.10" y="311.02" width="11.71" height="11.96" fill="#FFFF86"/><rect x="315.51" y="311.02" width="11.71" height="11.96" fill="#FFFF86"/><rect x="326.93" y="311.02" width="11.71" height="11.96" fill="#FFF000"/><rect x="338.34" y="311.02" width="11.71" height="11.96" fill="#FFF000"/><rect x="349.75" y="311.02" width="11.71" height="11.96" fill="#FFF000"/><rect x="361.16" y="311.02" width="11.71" height="11.96" fill="#FFD800"/><rect x="372.58" y="311.02" width="11.71" height="11.96" fill="#FFD800"/><rect x="383.99" y="311.02" width="11.71" height="11.96" fill="#FFD800"/><rect x="395.40" y="311.02" width="11.71" height="11.96" fill="#FFBE10"/><rect x="406.82" y="311.02" width="11.71" height="11.96" fill="#FFBE10"/><rect x="418.23" y="311.02" width="11.71" height="11.96" fill="#FFA210"/><rect x="429.64" y="311.02" width="11.71" height="11.96" fill="#FFA210"/><rect x="441.05" y="311.02" width="11.71" height="11.96" fill="#FFA210"/><rect x="452.47" y="311.02" width="11.71" height="11.96" fill="#FF8406"/><rect x="463.88" y="311.02" width="11.71" height="11.96" fill="#FFA210"/><rect x="475.29" y="311.02" width="5.71" height="11.96" fill="#FFA210"/><rect x="304.10" y="322.68" width="11.71" height="11.96" fill="#FFFF86"/><rect x="315.51" y="322.68" width="11.71" height="11.96" fill="#FFFF86"/><rect x="326.93" y="322.68" width="11.71" height="11.96" fill="#FFF000"/><rect x="338.34" y="322.68" width="11.71" height="11.96" fill="#FFF000"/><rect x="349.75" y="322.68" width="11.71" height="11.96" fill="#FFD800"/><rect x="361.16" y="322.68" width="11.71" height="11.96" fill="#FFD800"/><rect x="372.58" y="322.68" width="11.71" height="11.96" fill="#FFD800"/><rect x="383.99" y="322.68" width="11.71" height="11.96" fill="#FFD800"/><rect x="395.40" y="322.68" width="11.71" height="11.96" fill="#FFBE10"/><rect x="406.82" y="322.68" width="11.71" height="11.96" fill="#FFA210"/><rect x="418.23" y="322.68" width="11.71" height="11.96" fill="#FFA210"/><rect x="429.64" y="322.68" width="11.71" height="11.96" fill="#FF8406"/><rect x="441.05" y="322.68" width="11.71" height="11.96" fill="#FF680C"/><rect x="452.47" y="322.68" width="11.71" height="11.96" fill="#FF8406"/><rect x="463.88" y="322.68" width="11.71" height="11.96" fill="#FFA210"/><rect x="475.29" y="322.68" width="5.71" height="11.96" fill="#FFA210"/><rect x="304.10" y="334.34" width="11.71" height="11.96" fill="#FFFF86"/><rect x="315.51" y="334.34" width="11.71" height="11.96" fill="#FFF000"/><rect x="326.93" y="334.34" width="11.71" height="11.96" fill="#FFF000"/><rect x="338.34" y="334.34" width="11.71" height="11.96" fill="#FFF000"/><rect x="349.75" y="334.34" width="11.71" height="11.96" fill="#FFD800"/><rect x="361.16" y="334.34" width="11.71" height="11.96" fill="#FFD800"/><rect x="372.58" y="334.34" width="11.71" height="11.96" fill="#FFD800"/><rect x="383.99" y="334.34" width="11.71" height="11.96" fill="#FFBE10"/><rect x="395.40" y="334.34" width="11.71" height="11.96" fill="#FFA210"/><rect x="406.82" y="334.34" width="11.71" height="11.96" fill="#FFA210"/><rect x="418.23" y="334.34" width="11.71" height="11.96" fill="#FFA210"/><rect x="429.64" y="334.34" width="11.71" height="11.96" fill="#FFA210"/><rect x="441.05" y="334.34" width="11.71" height="11.96" fill="#FF8406"/><rect x="452.47" y="334.34" width="11.71" height="11.96" fill="#FF8406"/><rect x="463.88" y="334.34" width="11.71" height="11.96" fill="#FFA210"/><rect x="475.29" y="334.34" width="5.71" height="11.96" fill="#FFA210"/><rect x="304.10" y="346.01" width="11.71" height="11.96" fill="#FFFF86"/><rect x="315.51" y="346.01" width="11.71" height="11.96" fill="#FFF000"/><rect x="326.93" y="346.01" width="11.71" height="11.96" fill="#FFF000"/><rect x="338.34" y="346.01" width="11.71" height="11.96" fill="#FFF000"/><rect x="349.75" y="346.01" width="11.71" height="11.96" fill="#FFD800"/><rect x="361.16" y="346.01" width="11.71" height="11.96" fill="#FFD800"/><rect x="372.58" y="346.01" width="11.71" height="11.96" fill="#FFBE10"/><rect x="383.99" y="346.01" width="11.71" height="11.96" fill="#FFBE10"/><rect x="395.40" y="346.01" width="11.71" height="11.96" fill="#FFBE10"/><rect x="406.82" y="346.01" width="11.71" height="11.96" fill="#FFBE10"/><rect x="418.23" y="346.01" width="11.71" height="11.96" fill="#FFA210"/><rect x="429.64" y="346.01" width="11.71" height="11.96" fill="#FFA210"/><rect x="441.05" y="346.01" width="11.71" height="11.96" fill="#FFA210"/><rect x="452.47" y="346.01" width="11.71" height="11.96" fill="#FFA210"/><rect x="463.88" y="346.01" width="11.71" height="11.96" fill="#FFA210"/><rect x="475.29" y="346.01" width="5.71" height="11.96" fill="#FFA210"/><rect x="304.10" y="357.67" width="11.71" height="11.96" fill="#FFFF86"/><rect x="315.51" y="357.67" width="11.71" height="11.96" fill="#FFF000"/><rect x="326.93" y="357.67" width="11.71" height="11.96" fill="#FFF000"/><rect x="338.34" y="357.67" width="11.71" height="11.96" fill="#FFD800"/><rect x="349.75" y="357.67" width="11.71" height="11.96" fill="#FFD800"/><rect x="361.16" y="357.67" width="11.71" height="11.96" fill="#FFBE10"/><rect x="372.58" y="357.67" width="11.71" height="11.96" fill="#FFBE10"/><rect x="383.99" y="357.67" width="11.71" height="11.96" fill="#FFBE10"/><rect x="395.40" y="357.67" width="11.71" height="11.96" fill="#FFBE10"/><rect x="406.82" y="357.67" width="11.71" height="11.96" fill="#FFBE10"/><rect x="418.23" y="357.67" width="11.71" height="11.96" fill="#FFA210"/><rect x="429.64" y="357.67" width="11.71" height="11.96" fill="#FFA210"/><rect x="441.05" y="357.67" width="11.71" height="11.96" fill="#FFA210"/><rect x="452.47" y="357.67" width="11.71" height="11.96" fill="#FFA210"/><rect x="463.88" y="357.67" width="11.71" height="11.96" fill="#FFA210"/><rect x="475.29" y="357.67" width="5.71" height="11.96" fill="#FFA210"/><rect x="304.10" y="369.33" width="11.71" height="11.96" fill="#FFFF86"/><rect x="315.51" y="369.33" width="11.71" height="11.96" fill="#FFF000"/><rect x="326.93" y="369.33" width="11.71" height="11.96" fill="#FFF000"/><rect x="338.34" y="369.33" width="11.71" height="11.96" fill="#FFD800"/><rect x="349.75" y="369.33" width="11.71" height="11.96" fill="#FFD800"/><rect x="361.16" y="369.33" width="11.71" height="11.96" fill="#FFBE10"/><rect x="372.58" y="369.33" width="11.71" height="11.96" fill="#FFBE10"/><rect x="383.99" y="369.33" width="11.71" height="11.96" fill="#FFBE10"/><rect x="395.40" y="369.33" width="11.71" height="11.96" fill="#FFBE10"/><rect x="406.82" y="369.33" width="11.71" height="11.96" fill="#FFA210"/><rect x="418.23" y="369.33" width="11.71" height="11.96" fill="#FFA210"/><rect x="429.64" y="369.33" width="11.71" height="11.96" fill="#FFA210"/><rect x="441.05" y="369.33" width="11.71" height="11.96" fill="#FFA210"/><rect x="452.47" y="369.33" width="11.71" height="11.96" fill="#FFBE10"/><rect x="463.88" y="369.33" width="11.71" height="11.96" fill="#FFBE10"/><rect x="475.29" y="369.33" width="5.71" height="11.96" fill="#FFBE10"/><rect x="304.10" y="380.99" width="11.71" height="11.96" fill="#FFF000"/><rect x="315.51" y="380.99" width="11.71" height="11.96" fill="#FFF000"/><rect x="326.93" y="380.99" width="11.71" height="11.96" fill="#FFF000"/><rect x="338.34" y="380.99" width="11.71" height="11.96" fill="#FFD800"/><rect x="349.75" y="380.99" width="11.71" height="11.96" fill="#FFBE10"/><rect x="361.16" y="380.99" width="11.71" height="11.96" fill="#FFBE10"/><rect x="372.58" y="380.99" width="11.71" height="11.96" fill="#FFBE10"/><rect x="383.99" y="380.99" width="11.71" height="11.96" fill="#FFBE10"/><rect x="395.40" y="380.99" width="11.71" height="11.96" fill="#FFBE10"/><rect x="406.82" y="380.99" width="11.71" height="11.96" fill="#FFBE10"/><rect x="418.23" y="380.99" width="11.71" height="11.96" fill="#FFA210"/><rect x="429.64" y="380.99" width="11.71" height="11.96" fill="#FFBE10"/><rect x="441.05" y="380.99" width="11.71" height="11.96" fill="#FFBE10"/><rect x="452.47" y="380.99" width="11.71" height="11.96" fill="#FFBE10"/><rect x="463.88" y="380.99" width="11.71" height="11.96" fill="#FFBE10"/><rect x="475.29" y="380.99" width="5.71" height="11.96" fill="#FFBE10"/><rect x="304.10" y="392.65" width="11.71" height="11.96" fill="#FFF000"/><rect x="315.51" y="392.65" width="11.71" height="11.96" fill="#FFD800"/><rect x="326.93" y="392.65" width="11.71" height="11.96" fill="#FFD800"/><rect x="338.34" y="392.65" width="11.71" height="11.96" fill="#FFD800"/><rect x="349.75" y="392.65" width="11.71" height="11.96" fill="#FFBE10"/><rect x="361.16" y="392.65" width="11.71" height="11.96" fill="#FFBE10"/><rect x="372.58" y="392.65" width="11.71" height="11.96" fill="#FFBE10"/><rect x="383.99" y="392.65" width="11.71" height="11.96" fill="#FFBE10"/><rect x="395.40" y="392.65" width="11.71" height="11.96" fill="#FFBE10"/><rect x="406.82" y="392.65" width="11.71" height="11.96" fill="#FFBE10"/><rect x="418.23" y="392.65" width="11.71" height="11.96" fill="#FFBE10"/><rect x="429.64" y="392.65" width="11.71" height="11.96" fill="#FFBE10"/><rect x="441.05" y="392.65" width="11.71" height="11.96" fill="#FFBE10"/><rect x="452.47" y="392.65" width="11.71" height="11.96" fill="#FFBE10"/><rect x="463.88" y="392.65" width="11.71" height="11.96" fill="#FFBE10"/><rect x="475.29" y="392.65" width="5.71" height="11.96" fill="#FFD800"/><rect x="304.10" y="404.31" width="11.71" height="11.96" fill="#FFF000"/><rect x="315.51" y="404.31" width="11.71" height="11.96" fill="#FFF000"/><rect x="326.93" y="404.31" width="11.71" height="11.96" fill="#FFD800"/><rect x="338.34" y="404.31" width="11.71" height="11.96" fill="#FFD800"/><rect x="349.75" y="404.31" width="11.71" height="11.96" fill="#FFBE10"/><rect x="361.16" y="404.31" width="11.71" height="11.96" fill="#FFBE10"/><rect x="372.58" y="404.31" width="11.71" height="11.96" fill="#FFBE10"/><rect x="383.99" y="404.31" width="11.71" height="11.96" fill="#FFBE10"/><rect x="395.40" y="404.31" width="11.71" height="11.96" fill="#FFD800"/><rect x="406.82" y="404.31" width="11.71" height="11.96" fill="#FFD800"/><rect x="418.23" y="404.31" width="11.71" height="11.96" fill="#FFD800"/><rect x="429.64" y="404.31" width="11.71" height="11.96" fill="#FFD800"/><rect x="441.05" y="404.31" width="11.71" height="11.96" fill="#FFD800"/><rect x="452.47" y="404.31" width="11.71" height="11.96" fill="#FFD800"/><rect x="463.88" y="404.31" width="11.71" height="11.96" fill="#FFD800"/><rect x="475.29" y="404.31" width="5.71" height="11.96" fill="#FFD800"/><rect x="304.10" y="415.97" width="11.71" height="11.96" fill="#FFF000"/><rect x="315.51" y="415.97" width="11.71" height="11.96" fill="#FFF000"/><rect x="326.93" y="415.97" width="11.71" height="11.96" fill="#FFF000"/><rect x="338.34" y="415.97" width="11.71" height="11.96" fill="#FFF000"/><rect x="349.75" y="415.97" width="11.71" height="11.96" fill="#FFD800"/><rect x="361.16" y="415.97" width="11.71" height="11.96" fill="#FFD800"/><rect x="372.58" y="415.97" width="11.71" height="11.96" fill="#FFD800"/><rect x="383.99" y="415.97" width="11.71" height="11.96" fill="#FFD800"/><rect x="395.40" y="415.97" width="11.71" height="11.96" fill="#FFF000"/><rect x="406.82" y="415.97" width="11.71" height="11.96" fill="#FFF000"/><rect x="418.23" y="415.97" width="11.71" height="11.96" fill="#FFF000"/><rect x="429.64" y="415.97" width="11.71" height="11.96" fill="#FFF000"/><rect x="441.05" y="415.97" width="11.71" height="11.96" fill="#FFF000"/><rect x="452.47" y="415.97" width="11.71" height="11.96" fill="#FFF000"/><rect x="463.88" y="415.97" width="11.71" height="11.96" fill="#FFFF86"/><rect x="475.29" y="415.97" width="5.71" height="11.96" fill="#FFFF86"/><rect x="304.10" y="427.63" width="11.71" height="11.96" fill="#FFFF86"/><rect x="315.51" y="427.63" width="11.71" height="11.96" fill="#FFF000"/><rect x="326.93" y="427.63" width="11.71" height="11.96" fill="#FFF000"/><rect x="338.34" y="427.63" width="11.71" height="11.96" fill="#FFF000"/><rect x="349.75" y="427.63" width="11.71" height="11.96" fill="#FFF000"/><rect x="361.16" y="427.63" width="11.71" height="11.96" fill="#FFF000"/><rect x="372.58" y="427.63" width="11.71" height="11.96" fill="#FFF000"/><rect x="383.99" y="427.63" width="11.71" height="11.96" fill="#FFF000"/><rect x="395.40" y="427.63" width="11.71" height="11.96" fill="#FFF000"/><rect x="406.82" y="427.63" width="11.71" height="11.96" fill="#FFF000"/><rect x="418.23" y="427.63" width="11.71" height="11.96" fill="#FFF000"/><rect x="429.64" y="427.63" width="11.71" height="11.96" fill="#FFFF86"/><rect x="441.05" y="427.63" width="11.71" height="11.96" fill="#FFFF86"/><rect x="452.47" y="427.63" width="11.71" height="11.96" fill="#FFFF86"/><rect x="463.88" y="427.63" width="11.71" height="11.96" fill="#FFFF86"/><rect x="475.29" y="427.63" width="5.71" height="11.96" fill="#FFFF86"/><rect x="304.10" y="439.29" width="11.71" height="11.96" fill="#FFFF86"/><rect x="315.51" y="439.29" width="11.71" height="11.96" fill="#FFFF86"/><rect x="326.93" y="439.29" width="11.71" height="11.96" fill="#FFF000"/><rect x="338.34" y="439.29" width="11.71" height="11.96" fill="#FFF000"/><rect x="349.75" y="439.29" width="11.71" height="11.96" fill="#FFF000"/><rect x="361.16" y="439.29" width="11.71" height="11.96" fill="#FFF000"/><rect x="372.58" y="439.29" width="11.71" height="11.96" fill="#FFF000"/><rect x="383.99" y="439.29" width="11.71" height="11.96" fill="#FFF000"/><rect x="395.40" y="439.29" width="11.71" height="11.96" fill="#FFF000"/><rect x="406.82" y="439.29" width="11.71" height="11.96" fill="#FFF000"/><rect x="418.23" y="439.29" width="11.71" height="11.96" fill="#FFFF86"/><rect x="429.64" y="439.29" width="11.71" height="11.96" fill="#FFFF86"/><rect x="441.05" y="439.29" width="11.71" height="11.96" fill="#FFFF86"/><rect x="452.47" y="439.29" width="11.71" height="11.96" fill="#FFFF86"/><rect x="463.88" y="439.29" width="11.71" height="11.96" fill="#FFFF86"/><rect x="475.29" y="439.29" width="5.71" height="11.96" fill="#FFFF86"/><rect x="304.10" y="450.96" width="11.71" height="11.96" fill="#FFFF86"/><rect x="315.51" y="450.96" width="11.71" height="11.96" fill="#FFFF86"/><rect x="326.93" y="450.96" width="11.71" height="11.96" fill="#FFF000"/><rect x="338.34" y="450.96" width="11.71" height="11.96" fill="#FFF000"/><rect x="349.75" y="450.96" width="11.71" height="11.96" fill="#FFF000"/><rect x="361.16" y="450.96" width="11.71" height="11.96" fill="#FFF000"/><rect x="372.58" y="450.96" width="11.71" height="11.96" fill="#FFF000"/><rect x="383.99" y="450.96" width="11.71" height="11.96" fill="#FFF000"/><rect x="395.40" y="450.96" width="11.71" height="11.96" fill="#FFF000"/><rect x="406.82" y="450.96" width="11.71" height="11.96" fill="#FFF000"/><rect x="418.23" y="450.96" width="11.71" height="11.96" fill="#FFF000"/><rect x="429.64" y="450.96" width="11.71" height="11.96" fill="#FFFF86"/><rect x="441.05" y="450.96" width="11.71" height="11.96" fill="#FFFF86"/><rect x="452.47" y="450.96" width="11.71" height="11.96" fill="#FFFF86"/><rect x="463.88" y="450.96" width="11.71" height="11.96" fill="#FFFF86"/><rect x="475.29" y="450.96" width="5.71" height="11.96" fill="#FFFF86"/><rect x="304.10" y="462.62" width="11.71" height="11.96" fill="#FFFF86"/><rect x="315.51" y="462.62" width="11.71" height="11.96" fill="#FFFF86"/><rect x="326.93" y="462.62" width="11.71" height="11.96" fill="#FFFF86"/><rect x="338.34" y="462.62" width="11.71" height="11.96" fill="#FFF000"/><rect x="349.75" y="462.62" width="11.71" height="11.96" fill="#FFF000"/><rect x="361.16" y="462.62" width="11.71" height="11.96" fill="#FFF000"/><rect x="372.58" y="462.62" width="11.71" height="11.96" fill="#FFF000"/><rect x="383.99" y="462.62" width="11.71" height="11.96" fill="#FFF000"/><rect x="395.40" y="462.62" width="11.71" height="11.96" fill="#FFF000"/><rect x="406.82" y="462.62" width="11.71" height="11.96" fill="#FFF000"/><rect x="418.23" y="462.62" width="11.71" height="11.96" fill="#FFF000"/><rect x="429.64" y="462.62" width="11.71" height="11.96" fill="#FFFF86"/><rect x="441.05" y="462.62" width="11.71" height="11.96" fill="#FFFF86"/><rect x="452.47" y="462.62" width="11.71" height="11.96" fill="#FFFF86"/><rect x="463.88" y="462.62" width="11.71" height="11.96" fill="#FFFF86"/><rect x="475.29" y="462.62" width="5.71" height="11.96" fill="#FFFF86"/><rect x="304.10" y="474.28" width="11.71" height="11.96" fill="#FFFFC4"/><rect x="315.51" y="474.28" width="11.71" height="11.96" fill="#FFFF86"/><rect x="326.93" y="474.28" width="11.71" height="11.96" fill="#FFFF86"/><rect x="338.34" y="474.28" width="11.71" height="11.96" fill="#FFF000"/><rect x="349.75" y="474.28" width="11.71" height="11.96" fill="#FFF000"/><rect x="361.16" y="474.28" width="11.71" height="11.96" fill="#FFF000"/><rect x="372.58" y="474.28" width="11.71" height="11.96" fill="#FFF000"/><rect x="383.99" y="474.28" width="11.71" height="11.96" fill="#FFF000"/><rect x="395.40" y="474.28" width="11.71" height="11.96" fill="#FFF000"/><rect x="406.82" y="474.28" width="11.71" height="11.96" fill="#FFF000"/><rect x="418.23" y="474.28" width="11.71" height="11.96" fill="#FFF000"/><rect x="429.64" y="474.28" width="11.71" height="11.96" fill="#FFF000"/><rect x="441.05" y="474.28" width="11.71" height="11.96" fill="#FFFF86"/><rect x="452.47" y="474.28" width="11.71" height="11.96" fill="#FFFF86"/><rect x="463.88" y="474.28" width="11.71" height="11.96" fill="#FFFF86"/><rect x="475.29" y="474.28" width="5.71" height="11.96" fill="#FFFFC4"/><rect x="304.10" y="485.94" width="11.71" height="11.66" fill="#FFFFC4"/><rect x="315.51" y="485.94" width="11.71" height="11.66" fill="#FFFF86"/><rect x="326.93" y="485.94" width="11.71" height="11.66" fill="#FFFF86"/><rect x="338.34" y="485.94" width="11.71" height="11.66" fill="#FFFF86"/><rect x="349.75" y="485.94" width="11.71" height="11.66" fill="#FFF000"/><rect x="361.16" y="485.94" width="11.71" height="11.66" fill="#FFF000"/><rect x="372.58" y="485.94" width="11.71" height="11.66" fill="#FFF000"/><rect x="383.99" y="485.94" width="11.71" height="11.66" fill="#FFF000"/><rect x="395.40" y="485.94" width="11.71" height="11.66" fill="#FFD800"/><rect x="406.82" y="485.94" width="11.71" height="11.66" fill="#FFD800"/><rect x="418.23" y="485.94" width="11.71" height="11.66" fill="#FFF000"/><rect x="429.64" y="485.94" width="11.71" height="11.66" fill="#FFF000"/><rect x="441.05" y="485.94" width="11.71" height="11.66" fill="#FFF000"/><rect x="452.47" y="485.94" width="11.71" height="11.66" fill="#FFF000"/><rect x="463.88" y="485.94" width="11.71" height="11.66" fill="#FFFF86"/><rect x="475.29" y="485.94" width="5.71" height="11.66" fill="#FFFF86"/></g><circle cx="364.0" cy="290.6" r="0.85" fill="#56379e"/><circle cx="404.0" cy="290.6" r="0.85" fill="#56379e"/><circle cx="409.7" cy="290.6" r="0.85" fill="#56379e"/><circle cx="415.4" cy="290.6" r="0.85" fill="#56379e"/><circle cx="438.2" cy="290.6" r="0.85" fill="#56379e"/><circle cx="455.3" cy="290.6" r="0.85" fill="#56379e"/><circle cx="461.0" cy="290.6" r="0.85" fill="#56379e"/><circle cx="466.7" cy="290.6" r="0.85" fill="#56379e"/><circle cx="364.0" cy="296.4" r="0.85" fill="#56379e"/><circle cx="369.7" cy="296.4" r="0.85" fill="#56379e"/><circle cx="375.4" cy="296.4" r="0.85" fill="#56379e"/><circle cx="449.6" cy="296.4" r="0.85" fill="#56379e"/><circle cx="461.0" cy="296.4" r="0.85" fill="#56379e"/><circle cx="466.7" cy="296.4" r="0.85" fill="#56379e"/><circle cx="364.0" cy="302.3" r="0.85" fill="#56379e"/><circle cx="369.7" cy="302.3" r="0.85" fill="#56379e"/><circle cx="375.4" cy="302.3" r="0.85" fill="#56379e"/><circle cx="381.1" cy="302.3" r="0.85" fill="#56379e"/><circle cx="443.9" cy="302.3" r="0.85" fill="#56379e"/><circle cx="466.7" cy="302.3" r="0.85" fill="#56379e"/><circle cx="386.8" cy="308.1" r="0.85" fill="#56379e"/><circle cx="466.7" cy="308.1" r="0.85" fill="#56379e"/><circle cx="455.3" cy="313.9" r="0.85" fill="#56379e"/><circle cx="461.0" cy="313.9" r="0.85" fill="#56379e"/><circle cx="466.7" cy="313.9" r="0.85" fill="#56379e"/><circle cx="472.4" cy="313.9" r="0.85" fill="#56379e"/><circle cx="398.3" cy="331.4" r="0.85" fill="#56379e"/><circle cx="404.0" cy="331.4" r="0.85" fill="#56379e"/><circle cx="381.1" cy="337.3" r="0.85" fill="#56379e"/><circle cx="386.8" cy="337.3" r="0.85" fill="#56379e"/><circle cx="392.6" cy="337.3" r="0.85" fill="#56379e"/><circle cx="398.3" cy="337.3" r="0.85" fill="#56379e"/><circle cx="404.0" cy="337.3" r="0.85" fill="#56379e"/><circle cx="409.7" cy="337.3" r="0.85" fill="#56379e"/><circle cx="415.4" cy="337.3" r="0.85" fill="#56379e"/><circle cx="438.2" cy="337.3" r="0.85" fill="#56379e"/><circle cx="329.8" cy="343.1" r="0.85" fill="#56379e"/><circle cx="404.0" cy="343.1" r="0.85" fill="#56379e"/><circle cx="409.7" cy="343.1" r="0.85" fill="#56379e"/><circle cx="352.6" cy="348.9" r="0.85" fill="#56379e"/><circle cx="364.0" cy="348.9" r="0.85" fill="#56379e"/><circle cx="369.7" cy="348.9" r="0.85" fill="#56379e"/><circle cx="381.1" cy="348.9" r="0.85" fill="#56379e"/><circle cx="386.8" cy="348.9" r="0.85" fill="#56379e"/><circle cx="398.3" cy="348.9" r="0.85" fill="#56379e"/><circle cx="346.9" cy="354.8" r="0.85" fill="#56379e"/><circle cx="352.6" cy="354.8" r="0.85" fill="#56379e"/><circle cx="358.3" cy="354.8" r="0.85" fill="#56379e"/><circle cx="364.0" cy="354.8" r="0.85" fill="#56379e"/><circle cx="369.7" cy="354.8" r="0.85" fill="#56379e"/><circle cx="375.4" cy="354.8" r="0.85" fill="#56379e"/><circle cx="381.1" cy="354.8" r="0.85" fill="#56379e"/><circle cx="392.6" cy="354.8" r="0.85" fill="#56379e"/><circle cx="398.3" cy="354.8" r="0.85" fill="#56379e"/><circle cx="409.7" cy="354.8" r="0.85" fill="#56379e"/><circle cx="415.4" cy="354.8" r="0.85" fill="#56379e"/><circle cx="358.3" cy="360.6" r="0.85" fill="#56379e"/><circle cx="364.0" cy="360.6" r="0.85" fill="#56379e"/><circle cx="369.7" cy="360.6" r="0.85" fill="#56379e"/><circle cx="375.4" cy="360.6" r="0.85" fill="#56379e"/><circle cx="381.1" cy="360.6" r="0.85" fill="#56379e"/><circle cx="386.8" cy="360.6" r="0.85" fill="#56379e"/><circle cx="392.6" cy="360.6" r="0.85" fill="#56379e"/><circle cx="398.3" cy="360.6" r="0.85" fill="#56379e"/><circle cx="404.0" cy="360.6" r="0.85" fill="#56379e"/><circle cx="358.3" cy="366.4" r="0.85" fill="#56379e"/><circle cx="364.0" cy="366.4" r="0.85" fill="#56379e"/><circle cx="375.4" cy="366.4" r="0.85" fill="#56379e"/><circle cx="381.1" cy="366.4" r="0.85" fill="#56379e"/><circle cx="386.8" cy="366.4" r="0.85" fill="#56379e"/><circle cx="398.3" cy="366.4" r="0.85" fill="#56379e"/><circle cx="409.7" cy="366.4" r="0.85" fill="#56379e"/><circle cx="386.8" cy="372.2" r="0.85" fill="#56379e"/><circle cx="409.7" cy="372.2" r="0.85" fill="#56379e"/><circle cx="381.1" cy="378.1" r="0.85" fill="#56379e"/><circle cx="386.8" cy="378.1" r="0.85" fill="#56379e"/><circle cx="392.6" cy="378.1" r="0.85" fill="#56379e"/><circle cx="398.3" cy="378.1" r="0.85" fill="#56379e"/><circle cx="352.6" cy="383.9" r="0.85" fill="#56379e"/><circle cx="358.3" cy="383.9" r="0.85" fill="#56379e"/><circle cx="364.0" cy="383.9" r="0.85" fill="#56379e"/><circle cx="375.4" cy="383.9" r="0.85" fill="#56379e"/><circle cx="381.1" cy="383.9" r="0.85" fill="#56379e"/><circle cx="386.8" cy="383.9" r="0.85" fill="#56379e"/><circle cx="398.3" cy="383.9" r="0.85" fill="#56379e"/><circle cx="346.9" cy="389.7" r="0.85" fill="#56379e"/><circle cx="352.6" cy="389.7" r="0.85" fill="#56379e"/><circle cx="358.3" cy="389.7" r="0.85" fill="#56379e"/><circle cx="364.0" cy="389.7" r="0.85" fill="#56379e"/><circle cx="369.7" cy="389.7" r="0.85" fill="#56379e"/><circle cx="375.4" cy="389.7" r="0.85" fill="#56379e"/><circle cx="381.1" cy="389.7" r="0.85" fill="#56379e"/><circle cx="392.6" cy="389.7" r="0.85" fill="#56379e"/><circle cx="398.3" cy="389.7" r="0.85" fill="#56379e"/><circle cx="324.1" cy="395.6" r="0.85" fill="#56379e"/><circle cx="329.8" cy="395.6" r="0.85" fill="#56379e"/><circle cx="335.5" cy="395.6" r="0.85" fill="#56379e"/><circle cx="341.2" cy="395.6" r="0.85" fill="#56379e"/><circle cx="346.9" cy="395.6" r="0.85" fill="#56379e"/><circle cx="352.6" cy="395.6" r="0.85" fill="#56379e"/><circle cx="358.3" cy="395.6" r="0.85" fill="#56379e"/><circle cx="364.0" cy="395.6" r="0.85" fill="#56379e"/><circle cx="369.7" cy="395.6" r="0.85" fill="#56379e"/><circle cx="375.4" cy="395.6" r="0.85" fill="#56379e"/><circle cx="381.1" cy="395.6" r="0.85" fill="#56379e"/><circle cx="329.8" cy="401.4" r="0.85" fill="#56379e"/><circle cx="335.5" cy="401.4" r="0.85" fill="#56379e"/><circle cx="341.2" cy="401.4" r="0.85" fill="#56379e"/><circle cx="346.9" cy="401.4" r="0.85" fill="#56379e"/><circle cx="352.6" cy="401.4" r="0.85" fill="#56379e"/><circle cx="358.3" cy="401.4" r="0.85" fill="#56379e"/><circle cx="364.0" cy="401.4" r="0.85" fill="#56379e"/><circle cx="369.7" cy="401.4" r="0.85" fill="#56379e"/><circle cx="324.1" cy="407.2" r="0.85" fill="#56379e"/><circle cx="335.5" cy="407.2" r="0.85" fill="#56379e"/><circle cx="341.2" cy="407.2" r="0.85" fill="#56379e"/><circle cx="346.9" cy="407.2" r="0.85" fill="#56379e"/><circle cx="352.6" cy="407.2" r="0.85" fill="#56379e"/><circle cx="358.3" cy="407.2" r="0.85" fill="#56379e"/><circle cx="364.0" cy="407.2" r="0.85" fill="#56379e"/><circle cx="369.7" cy="407.2" r="0.85" fill="#56379e"/><circle cx="346.9" cy="413.1" r="0.85" fill="#56379e"/><circle cx="352.6" cy="413.1" r="0.85" fill="#56379e"/><circle cx="358.3" cy="413.1" r="0.85" fill="#56379e"/><circle cx="364.0" cy="413.1" r="0.85" fill="#56379e"/><circle cx="369.7" cy="413.1" r="0.85" fill="#56379e"/><path d="M355.8,343.4 L357.1,345.7 L357.8,348.8 L358.6,351.5 L360.5,352.2 L362.5,351.1 L364.8,350.3 L367.2,351.5 L369.6,351.1 L371.5,350.0 L372.2,346.4 L374.1,345.4 L378.8,344.8 L382.3,343.1 L385.7,341.8 L389.3,341.3 L394.5,339.5 L396.9,341.3 L399.9,345.4 L402.2,348.9 L403.4,352.3 L405.1,356.4 L407.5,360.0 L408.6,363.4 L408.1,368.1 L405.7,371.6 L403.4,375.7 L402.2,379.8 L399.9,383.3 L396.3,385.6 L395.2,389.1 L395.7,392.5 L392.9,394.1 L390.7,397.5 L389.5,402.0 L387.9,406.4 L386.8,410.8 L385.6,415.2 L384.0,420.8 L382.3,422.0 L380.6,419.7 L378.4,417.5 L375.1,415.8 L372.8,414.1 L374.5,411.4 L378.4,410.2 L376.7,408.6 L374.0,405.9 L374.0,402.0 L371.7,399.1 L368.3,396.9 L364.4,394.7 L361.7,395.9 L357.2,396.9 L353.3,396.9 L352.7,393.6 L352.1,390.3 L349.9,393.0 L348.8,396.4 L346.0,394.1 L343.2,391.4 L340.5,388.6 L337.6,386.4 L339.8,379.7 L340.3,377.1 L339.8,372.9 L339.8,369.8 L341.4,365.9 L342.2,362.8 L342.5,359.7 L342.9,356.5 L343.7,353.5 L345.3,350.3 L346.8,348.1 L349.2,346.4 L351.5,345.7 L353.9,343.8 Z" fill="none" stroke="#2f2fff" stroke-width="0.95"/><circle cx="369.1" cy="385.2" r="2.4" fill="none" stroke="#2f2fff" stroke-width="0.95"/><path d="M401.4,286.5 L397.5,287.8 L391.9,290.6 L388.5,293.3 L384.1,296.1 L379.1,298.3 L376.2,300.0 L375.2,302.8 L372.9,305.5 L369.6,310.0 L367.3,315.0 L366.1,318.0 L365.5,322.1 L362.5,323.2 L358.4,322.7 L354.9,323.8 L351.4,323.8 L348.5,325.5 L346.1,323.8 L343.7,321.4 L341.5,320.3 L339.6,322.7 L339.6,328.5 L341.5,331.9 L342.0,335.5 L340.6,340.2 L338.2,343.4 L336.7,344.9 L335.1,348.1 L334.3,351.9 L333.9,355.8 L332.7,357.6 L330.9,362.3 L332.1,368.1 L330.3,371.6 L328.2,373.8 L326.6,376.5 L326.6,381.8 L329.0,385.3 L333.1,388.2 L333.7,391.7 L332.5,394.6 L335.4,397.5 L336.7,401.1 L335.4,405.6 L332.0,410.3 L329.6,413.8 L329.6,417.4 L325.5,420.2 L321.4,422.6 L318.4,425.5 L316.7,429.0 L316.0,432.2 L315.4,436.7 L314.0,443.4 L311.4,448.7 L309.3,453.3 L309.3,457.9 L308.0,461.9 L312.0,463.9 L315.4,465.9 L317.3,469.9 L318.6,473.1 L320.0,476.5 L320.0,479.8 L322.6,482.4 L325.3,484.3 L326.0,488.3 L326.6,491.7 L330.0,492.3 L335.3,491.7 L340.7,492.3 L346.0,493.6 L350.2,494.3 L353.3,494.5 L355.3,494.9 L357.6,496.5 L361.4,495.7 L365.1,494.2 L367.4,491.2 L368.9,487.4 L372.0,485.2 L375.8,483.6 L379.6,482.1 L381.9,479.0 L380.4,476.8 L376.6,476.0 L372.7,471.5 L370.5,465.4 L368.2,459.4 L368.2,453.3 L369.8,448.8 L370.5,442.7 L370.5,436.6 L371.3,432.1 L373.5,428.3 L375.8,424.5 L378.3,422.0 L380.4,420.4 L384.2,424.2 L388.6,424.9 L392.4,422.0 L395.4,419.0 L399.1,416.0 L402.8,414.5 L407.2,415.3 L411.0,416.8 L414.7,416.0 L418.4,416.8 L422.2,418.3 L425.2,419.7 L428.9,420.4 L433.4,419.7 L437.8,421.2 L442.3,422.7 L446.8,423.0 L450.5,422.0 L452.4,419.4 L453.4,417.1 L455.5,414.5 L458.1,411.3 L460.1,409.1 L462.3,409.9 L464.7,412.1 L467.3,409.9 L469.7,408.7 L473.1,407.7 L476.5,407.9 L480.0,408.3 L479.4,403.7 L478.5,399.5 L476.5,395.4 L475.7,391.2 L477.7,390.4 L477.7,387.3 L477.7,383.0 L476.5,379.8 L473.8,376.6 L470.6,373.9 L467.4,371.4 L467.4,367.4 L465.4,365.5 L460.8,363.5 L456.9,361.6 L453.0,359.7 L451.7,356.4 L448.4,353.9 L445.1,353.1 L440.6,353.9 L436.7,352.5 L433.5,348.7 L430.2,348.1 L426.3,344.8 L422.4,340.2 L418.4,335.0 L415.9,331.7 L412.9,328.7 L415.0,325.7 L413.2,322.1 L410.9,318.9 L409.2,316.7 L407.6,313.3 L406.9,308.9 L407.6,304.4 L408.7,301.1 L408.1,298.3 L405.3,296.7 L403.7,292.2 L402.5,287.8 Z" fill="none" stroke="#111" stroke-width="1.0" stroke-linejoin="round"/><circle cx="387.7" cy="313.8" r="1.1" fill="#000"/><text x="387.7" y="321.0" class="town">Gondar</text><circle cx="371.1" cy="366.4" r="1.1" fill="#000"/><text x="371.1" y="373.6" class="town">Lake Tana</text><circle cx="380.3" cy="420.6" r="1.1" fill="#000"/><text x="380.3" y="427.8" class="town">Bahir Dar</text><circle cx="320.4" cy="440.7" r="1.1" fill="#000"/><text x="320.4" y="447.9" class="town">Dangila</text><circle cx="452.3" cy="390.2" r="1.1" fill="#000"/><text x="452.3" y="397.4" class="town">Debre Tabor</text><circle cx="480.0" cy="408.3" r="1.1" fill="#000"/><text x="480.0" y="415.5" class="town">Mt Guna</text><line x1="338.3" y1="508.4" x2="338.3" y2="509.9" stroke="#333" stroke-width="0.4"/><text x="338.3" y="514.3" class="tick" text-anchor="middle">37.0°E</text><line x1="395.4" y1="508.4" x2="395.4" y2="509.9" stroke="#333" stroke-width="0.4"/><text x="395.4" y="514.3" class="tick" text-anchor="middle">37.5°E</text><line x1="452.5" y1="508.4" x2="452.5" y2="509.9" stroke="#333" stroke-width="0.4"/><text x="452.5" y="514.3" class="tick" text-anchor="middle">38.0°E</text><line x1="293.7" y1="491.8" x2="295.2" y2="491.8" stroke="#333" stroke-width="0.4"/><text x="293.0" y="493.0" class="tick" text-anchor="end">11.0°N</text><line x1="293.7" y1="433.5" x2="295.2" y2="433.5" stroke="#333" stroke-width="0.4"/><text x="293.0" y="434.7" class="tick" text-anchor="end">11.5°N</text><line x1="293.7" y1="375.2" x2="295.2" y2="375.2" stroke="#333" stroke-width="0.4"/><text x="293.0" y="376.4" class="tick" text-anchor="end">12.0°N</text><line x1="293.7" y1="316.9" x2="295.2" y2="316.9" stroke="#333" stroke-width="0.4"/><text x="293.0" y="318.1" class="tick" text-anchor="end">12.5°N</text><text x="392.6" y="520.0" class="axt" text-anchor="middle">Longitude</text><text transform="translate(279.2,392.6) rotate(-90)" class="axt" text-anchor="middle">Latitude</text><rect x="298.3" y="502.5" width="21.0" height="3.1" fill="#000" stroke="#222" stroke-width="0.3"/><rect x="319.3" y="502.5" width="21.0" height="3.1" fill="#fff" stroke="#222" stroke-width="0.3"/><rect x="340.3" y="502.5" width="21.0" height="3.1" fill="#000" stroke="#222" stroke-width="0.3"/><rect x="361.3" y="502.5" width="21.0" height="3.1" fill="#fff" stroke="#222" stroke-width="0.3"/><text x="384.1" y="505.2" class="km">80 km</text><circle cx="308.1" cy="290.8" r="5.4" fill="none" stroke="#555" stroke-width="0.5"/><path d="M307.5,283.8 L311.7,295.5 L307.5,292.8 Z" fill="#000"/><path d="M307.5,283.8 L303.3,295.7 L307.5,292.8 Z" fill="#fff" stroke="#000" stroke-width="0.4"/><text x="307.5" y="281.8" class="nlab" text-anchor="middle">N</text><text x="344.0" y="272.4" class="tl">d.</text><text x="356.6" y="272.4" class="title" textLength="37.8" lengthAdjust="spacingAndGlyphs">R-factor Trend</text><text x="396.0" y="272.4" class="title" font-weight="bold" textLength="38.0" lengthAdjust="spacingAndGlyphs">(2015 – 2022)</text><text x="496.8" y="436.9" class="leg">Trend</text><circle cx="500.2" cy="443.4" r="0.72" fill="#6a50c0"/><text x="506.6" y="444.8" class="legs">Significantly Increasing</text><text x="496.8" y="342.7" class="leg">Sen's slope</text><rect x="497.4" y="345.4" width="3.1" height="77.0" fill="url(#cb)"/><line x1="497.4" y1="347.5" x2="498.0" y2="347.5" stroke="#fff" stroke-width="0.3"/><text x="503.0" y="348.8" class="legs">60</text><line x1="497.4" y1="368.9" x2="498.0" y2="368.9" stroke="#fff" stroke-width="0.3"/><text x="503.0" y="370.2" class="legs">40</text><line x1="497.4" y1="391.0" x2="498.0" y2="391.0" stroke="#fff" stroke-width="0.3"/><text x="503.0" y="392.3" class="legs">20</text><line x1="497.4" y1="412.4" x2="498.0" y2="412.4" stroke="#fff" stroke-width="0.3"/><text x="503.0" y="413.7" class="legs">0</text></svg></body></html>
